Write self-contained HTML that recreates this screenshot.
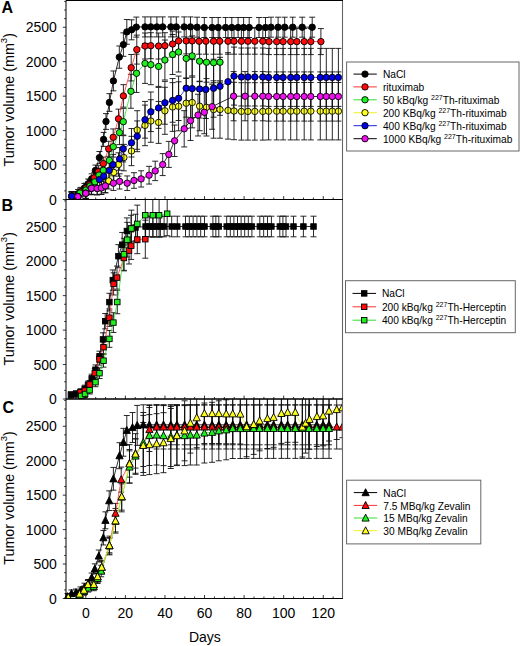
<!DOCTYPE html>
<html><head><meta charset="utf-8"><title>Tumor volume</title>
<style>
html,body{margin:0;padding:0;background:#fff;}
body{width:520px;height:646px;overflow:hidden;font-family:"Liberation Sans", sans-serif;}
svg{display:block;position:absolute;left:0;top:0;}
</style></head><body>
<svg width="520" height="646" viewBox="0 0 520 646" font-family='"Liberation Sans", sans-serif' fill="#000">
<clipPath id="clipA"><rect x="64" y="0.5" width="278.5" height="199"/></clipPath>
<g clip-path="url(#clipA)">
<path d="M71.7 192.03V200.36M68.7 192.03H74.7M68.7 200.36H74.7M78 189.52V198.09M75 189.52H81M75 198.09H81M84.4 183.43V192.57M81.4 183.43H87.4M81.4 192.57H87.4M88.2 179.02V188.59M85.2 179.02H91.2M85.2 188.59H91.2M91.7 173.77V183.84M88.7 173.77H94.7M88.7 183.84H94.7M95.4 165.05V175.95M92.4 165.05H98.4M92.4 175.95H98.4M99.4 151.5V163.69M96.4 151.5H102.4M96.4 163.69H102.4M103.6 132.4V146.41M100.6 132.4H106.6M100.6 146.41H106.6M106 113.6V129.4M103 113.6H109M103 129.4H109M109.4 93.65V111.35M106.4 93.65H112.4M106.4 111.35H112.4M113.4 70.97V90.83M110.4 70.97H116.4M110.4 90.83H116.4M119.3 45.98V68.22M116.3 45.98H122.3M116.3 68.22H122.3M123.4 32.86V56.34M120.4 32.86H126.4M120.4 56.34H126.4M126.8 19.52V44.28M123.8 19.52H129.8M123.8 44.28H129.8M131.6 19.8V39.8M128.6 19.8H134.6M128.6 39.8H134.6M136.3 17.1V37.1M133.3 17.1H139.3M133.3 37.1H139.3M145 16.9V36.9M142 16.9H148M142 36.9H148M150.8 16.9V36.9M147.8 16.9H153.8M147.8 36.9H153.8M156.9 16.9V36.9M153.9 16.9H159.9M153.9 36.9H159.9M162.7 16.9V36.9M159.7 16.9H165.7M159.7 36.9H165.7M170.9 16.9V36.9M167.9 16.9H173.9M167.9 36.9H173.9M176.3 16.9V36.9M173.3 16.9H179.3M173.3 36.9H179.3M184.2 16.9V36.9M181.2 16.9H187.2M181.2 36.9H187.2M190.5 16.9V36.9M187.5 16.9H193.5M187.5 36.9H193.5M197.1 17.2V37.2M194.1 17.2H200.1M194.1 37.2H200.1M204.3 17.5V37.5M201.3 17.5H207.3M201.3 37.5H207.3M212.1 17.5V37.5M209.1 17.5H215.1M209.1 37.5H215.1M218.2 17.5V37.5M215.2 17.5H221.2M215.2 37.5H221.2M225.6 17.5V37.5M222.6 17.5H228.6M222.6 37.5H228.6M231.8 17.5V37.5M228.8 17.5H234.8M228.8 37.5H234.8M238.1 17.5V37.5M235.1 17.5H241.1M235.1 37.5H241.1M243.6 17.5V37.5M240.6 17.5H246.6M240.6 37.5H246.6M249.2 17.5V37.5M246.2 17.5H252.2M246.2 37.5H252.2M259 17.5V37.5M256 17.5H262M256 37.5H262M265.5 17.5V37.5M262.5 17.5H268.5M262.5 37.5H268.5M271 17.2V37.2M268 17.2H274M268 37.2H274M278.1 17.2V37.2M275.1 17.2H281.1M275.1 37.2H281.1M284.7 17.2V37.2M281.7 17.2H287.7M281.7 37.2H287.7M292.7 17.2V37.2M289.7 17.2H295.7M289.7 37.2H295.7M302.2 17.2V37.2M299.2 17.2H305.2M299.2 37.2H305.2M312.2 17.2V37.2M309.2 17.2H315.2M309.2 37.2H315.2" stroke="#111" stroke-width="0.9" fill="none"/>
<path d="M71.7 191.75V200.25M68.7 191.75H74.7M68.7 200.25H74.7M80.8 187.37V196.43M77.8 187.37H83.8M77.8 196.43H83.8M86 183.19V192.81M83 183.19H89M83 192.81H89M89.6 179.45V189.55M86.6 179.45H92.6M86.6 189.55H92.6M94.3 172.28V183.32M91.3 172.28H97.3M91.3 183.32H97.3M98.3 165.75V177.65M95.3 165.75H101.3M95.3 177.65H101.3M103.3 157.09V170.11M100.3 157.09H106.3M100.3 170.11H106.3M108.7 141.25V156.35M105.7 141.25H111.7M105.7 156.35H111.7M113.2 128.95V145.65M110.2 128.95H116.2M110.2 145.65H116.2M118.5 109.15V128.45M115.5 109.15H121.5M115.5 128.45H121.5M123.4 84.65V107.15M120.4 84.65H126.4M120.4 107.15H126.4M131.2 54.47V80.93M128.2 54.47H134.2M128.2 80.93H134.2M136.8 35.11V64.09M133.8 35.11H139.8M133.8 64.09H139.8M145 33V59M142 33H148M142 59H148M150.8 32.7V58.7M147.8 32.7H153.8M147.8 58.7H153.8M158.6 33V59M155.6 33H161.6M155.6 59H161.6M164.9 32.7V58.7M161.9 32.7H167.9M161.9 58.7H167.9M172.6 31V57M169.6 31H175.6M169.6 57H175.6M178.6 27.9V53.9M175.6 27.9H181.6M175.6 53.9H181.6M186.2 27.9V53.9M183.2 27.9H189.2M183.2 53.9H189.2M192.2 27.9V53.9M189.2 27.9H195.2M189.2 53.9H195.2M199.1 28.2V54.2M196.1 28.2H202.1M196.1 54.2H202.1M205.8 28.2V54.2M202.8 28.2H208.8M202.8 54.2H208.8M213.6 28.2V54.2M210.6 28.2H216.6M210.6 54.2H216.6M219.7 28.2V54.2M216.7 28.2H222.7M216.7 54.2H222.7M228 28.2V54.2M225 28.2H231M225 54.2H231M234 28.2V54.2M231 28.2H237M231 54.2H237M241.4 28.2V54.2M238.4 28.2H244.4M238.4 54.2H244.4M247.9 28.2V54.2M244.9 28.2H250.9M244.9 54.2H250.9M254.8 28.2V54.2M251.8 28.2H257.8M251.8 54.2H257.8M262.8 28.2V54.2M259.8 28.2H265.8M259.8 54.2H265.8M269 28.6V54.6M266 28.6H272M266 54.6H272M276.7 28.6V54.6M273.7 28.6H279.7M273.7 54.6H279.7M283.1 28.6V54.6M280.1 28.6H286.1M280.1 54.6H286.1M290.7 28.6V54.6M287.7 28.6H293.7M287.7 54.6H293.7M296.8 28.6V54.6M293.8 28.6H299.8M293.8 54.6H299.8M304.2 28.6V54.6M301.2 28.6H307.2M301.2 54.6H307.2M310.8 28.6V54.6M307.8 28.6H313.8M307.8 54.6H313.8M320.9 28.6V54.6M317.9 28.6H323.9M317.9 54.6H323.9" stroke="#111" stroke-width="0.9" fill="none"/>
<path d="M71.7 191.92V200.68M68.7 191.92H74.7M68.7 200.68H74.7M80 188.22V197.78M77 188.22H83M77 197.78H83M86 184.86V195.14M83 184.86H89M83 195.14H89M90 180.38V191.62M87 180.38H93M87 191.62H93M94.9 175.68V187.92M91.9 175.68H97.9M91.9 187.92H97.9M99 168.17V182.03M96 168.17H102M96 182.03H102M103.3 162.8V177.8M100.3 162.8H106.3M100.3 177.8H106.3M109.3 151.6V169M106.3 151.6H112.3M106.3 169H112.3M113.3 136.36V157.04M110.3 136.36H116.3M110.3 157.04H116.3M119.5 120.57V144.63M116.5 120.57H122.5M116.5 144.63H122.5M123.3 108.36V135.04M120.3 108.36H126.3M120.3 135.04H126.3M130.9 74.32V108.28M127.9 74.32H133.9M127.9 108.28H133.9M136.5 54.16V92.44M133.5 54.16H139.5M133.5 92.44H139.5M145 43.4V83.4M142 43.4H148M142 83.4H148M150.8 44.7V84.7M147.8 44.7H153.8M147.8 84.7H153.8M158.6 46.4V86.4M155.6 46.4H161.6M155.6 86.4H161.6M164.9 40V80M161.9 40H167.9M161.9 80H167.9M172.6 34.5V74.5M169.6 34.5H175.6M169.6 74.5H175.6M178.6 32V72M175.6 32H181.6M175.6 72H181.6M186.2 38.4V78.4M183.2 38.4H189.2M183.2 78.4H189.2M192.2 35.9V75.9M189.2 35.9H195.2M189.2 75.9H195.2M199.6 41.2V81.2M196.6 41.2H202.6M196.6 81.2H202.6M206.5 42.2V82.2M203.5 42.2H209.5M203.5 82.2H209.5M213.6 42.7V82.7M210.6 42.7H216.6M210.6 82.7H216.6M220 42.2V82.2M217 42.2H223M217 82.2H223" stroke="#111" stroke-width="0.9" fill="none"/>
<path d="M71.7 191.84V201.16M68.7 191.84H74.7M68.7 201.16H74.7M77.8 192.08V201.32M74.8 192.08H80.8M74.8 201.32H80.8M85.8 187.94V198.66M82.8 187.94H88.8M82.8 198.66H88.8M91.5 181.84V194.76M88.5 181.84H94.5M88.5 194.76H94.5M97.2 182.08V194.92M94.2 182.08H100.2M94.2 194.92H100.2M101.3 181.35V194.45M98.3 181.35H104.3M98.3 194.45H104.3M105.3 178.91V192.89M102.3 178.91H108.3M102.3 192.89H108.3M108.8 172.81V188.99M105.8 172.81H111.8M105.8 188.99H111.8M113.8 162.44V182.36M110.8 162.44H116.8M110.8 182.36H116.8M118.5 152.8V176.2M115.5 152.8H121.5M115.5 176.2H121.5M123.9 144.38V170.82M120.9 144.38H126.9M120.9 170.82H126.9M131.5 136.33V165.67M128.5 136.33H134.5M128.5 165.67H134.5M137.2 110.71V149.29M134.2 110.71H140.2M134.2 149.29H140.2M145 105.1V145.7M142 105.1H148M142 145.7H148M150.8 99.73V142.27M147.8 99.73H153.8M147.8 142.27H153.8M158.6 101.44V143.36M155.6 101.44H161.6M155.6 143.36H161.6M164.9 87.29V134.31M161.9 87.29H167.9M161.9 134.31H167.9M172.6 82.65V131.35M169.6 82.65H175.6M169.6 131.35H175.6M178.6 81.8V130.8M175.6 81.8H181.6M175.6 130.8H181.6M186.2 78.01V128.39M183.2 78.01H189.2M183.2 128.39H189.2M192.2 77.16V127.84M189.2 77.16H195.2M189.2 127.84H195.2M199.6 81.67V130.73M196.6 81.67H202.6M196.6 130.73H202.6M206.5 78.6V136M203.5 78.6H209.5M203.5 136H209.5M213.6 80.8V138.2M210.6 80.8H216.6M210.6 138.2H216.6M220 80.8V138.2M217 80.8H223M217 138.2H223M228 81.7V139.1M225 81.7H231M225 139.1H231M234 82.3V139.7M231 82.3H237M231 139.7H237M241.4 82.7V140.1M238.4 82.7H244.4M238.4 140.1H244.4M247.9 82.7V140.1M244.9 82.7H250.9M244.9 140.1H250.9M254.8 82.7V140.1M251.8 82.7H257.8M251.8 140.1H257.8M262.8 82.7V140.1M259.8 82.7H265.8M259.8 140.1H265.8M268.6 82.5V139.9M265.6 82.5H271.6M265.6 139.9H271.6M276.7 82.5V139.9M273.7 82.5H279.7M273.7 139.9H279.7M283.1 82.5V139.9M280.1 82.5H286.1M280.1 139.9H286.1M290.7 82.5V139.9M287.7 82.5H293.7M287.7 139.9H293.7M296.8 82.5V139.9M293.8 82.5H299.8M293.8 139.9H299.8M304.2 82.5V139.9M301.2 82.5H307.2M301.2 139.9H307.2M310.8 82.5V139.9M307.8 82.5H313.8M307.8 139.9H313.8M320.3 82.5V139.9M317.3 82.5H323.3M317.3 139.9H323.3M326.3 82.5V139.9M323.3 82.5H329.3M323.3 139.9H329.3M332.3 82.5V139.9M329.3 82.5H335.3M329.3 139.9H335.3M338.4 82.5V139.9M335.4 82.5H341.4M335.4 139.9H341.4" stroke="#111" stroke-width="0.9" fill="none"/>
<path d="M71.7 191.61V200.79M68.7 191.61H74.7M68.7 200.79H74.7M77.8 191.96V201.04M74.8 191.96H80.8M74.8 201.04H80.8M85.8 187.95V198.25M82.8 187.95H88.8M82.8 198.25H88.8M91.3 182.17V194.23M88.3 182.17H94.3M88.3 194.23H94.3M99.4 172.02V187.18M96.4 172.02H102.4M96.4 187.18H102.4M103.7 168.01V184.39M100.7 168.01H106.7M100.7 184.39H106.7M109.3 161.16V179.64M106.3 161.16H112.3M106.3 179.64H112.3M113.1 154.44V174.96M110.1 154.44H116.1M110.1 174.96H116.1M119.6 147.59V170.21M116.6 147.59H122.6M116.6 170.21H122.6M123.2 135.67V161.93M120.2 135.67H126.2M120.2 161.93H126.2M131.5 128.59V157.01M128.5 128.59H134.5M128.5 157.01H134.5M137.2 120.92V151.68M134.2 120.92H140.2M134.2 151.68H140.2M145 101.45V138.15M142 101.45H148M142 138.15H148M150.8 92.01V131.59M147.8 92.01H153.8M147.8 131.59H153.8M158.6 87.41V128.39M155.6 87.41H161.6M155.6 128.39H161.6M164.9 81.39V124.21M161.9 81.39H167.9M161.9 124.21H167.9M172.6 78.56V122.24M169.6 78.56H175.6M169.6 122.24H175.6M178.6 76.08V120.52M175.6 76.08H181.6M175.6 120.52H181.6M186.2 59.2V117.2M183.2 59.2H189.2M183.2 117.2H189.2M192.2 59.6V117.6M189.2 59.6H195.2M189.2 117.6H195.2M199.6 60V118M196.6 60H202.6M196.6 118H202.6M205.8 60.5V118.5M202.8 60.5H208.8M202.8 118.5H208.8M213.6 59.2V117.2M210.6 59.2H216.6M210.6 117.2H216.6M220 57.3V115.3M217 57.3H223M217 115.3H223M228 52.7V110.7M225 52.7H231M225 110.7H231M234 47.1V105.1M231 47.1H237M231 105.1H237M241.4 48V106M238.4 48H244.4M238.4 106H244.4M247.9 48V106M244.9 48H250.9M244.9 106H250.9M254.8 48V106M251.8 48H257.8M251.8 106H257.8M262.8 48V106M259.8 48H265.8M259.8 106H265.8M268.6 48.4V106.4M265.6 48.4H271.6M265.6 106.4H271.6M276.7 48.4V106.4M273.7 48.4H279.7M273.7 106.4H279.7M283.1 48.4V106.4M280.1 48.4H286.1M280.1 106.4H286.1M290.7 48.4V106.4M287.7 48.4H293.7M287.7 106.4H293.7M296.8 48.4V106.4M293.8 48.4H299.8M293.8 106.4H299.8M304.2 48.4V106.4M301.2 48.4H307.2M301.2 106.4H307.2M310.8 48.4V106.4M307.8 48.4H313.8M307.8 106.4H313.8M320.3 48.4V106.4M317.3 48.4H323.3M317.3 106.4H323.3M326.3 48.4V106.4M323.3 48.4H329.3M323.3 106.4H329.3M332.3 48.4V106.4M329.3 48.4H335.3M329.3 106.4H335.3M338.4 48.4V106.4M335.4 48.4H341.4M335.4 106.4H341.4" stroke="#111" stroke-width="0.9" fill="none"/>
<path d="M77.8 192.14V201.26M74.8 192.14H80.8M74.8 201.26H80.8M85.8 188.06V198.54M82.8 188.06H88.8M82.8 198.54H88.8M91.5 182.06V194.54M88.5 182.06H94.5M88.5 194.54H94.5M97.2 182.3V194.7M94.2 182.3H100.2M94.2 194.7H100.2M101.3 181.58V194.22M98.3 181.58H104.3M98.3 194.22H104.3M105.3 179.18V192.62M102.3 179.18H108.3M102.3 192.62H108.3M113.4 175.94V190.46M110.4 175.94H116.4M110.4 190.46H116.4M119.6 173.78V189.02M116.6 173.78H122.6M116.6 189.02H122.6M127.2 175.94V190.46M124.2 175.94H130.2M124.2 190.46H130.2M134 172.7V188.3M131 172.7H137M131 188.3H137M141.1 170.78V187.02M138.1 170.78H144.1M138.1 187.02H144.1M149.1 166.34V184.06M146.1 166.34H152.1M146.1 184.06H152.1M155.2 161.18V180.62M152.2 161.18H158.2M152.2 180.62H158.2M162.7 153.62V175.58M159.7 153.62H165.7M159.7 175.58H165.7M168.8 141.38V167.42M165.8 141.38H171.8M165.8 167.42H171.8M174.6 125.06V156.54M171.6 125.06H177.6M171.6 156.54H177.6M184.2 110.66V146.94M181.2 110.66H187.2M181.2 146.94H187.2M190.5 100.94V140.46M187.5 100.94H193.5M187.5 140.46H193.5M198 94.22V135.98M195 94.22H201M195 135.98H201M204.3 90.86V133.74M201.3 90.86H207.3M201.3 133.74H207.3M212.1 84.14V129.26M209.1 84.14H215.1M209.1 129.26H215.1M233.6 71.6V120.8M230.6 71.6H236.6M230.6 120.8H236.6M245.1 71.6V120.8M242.1 71.6H248.1M242.1 120.8H248.1M254.8 71.6V120.8M251.8 71.6H257.8M251.8 120.8H257.8M262.8 71.6V120.8M259.8 71.6H265.8M259.8 120.8H265.8M268.6 71.9V121.1M265.6 71.9H271.6M265.6 121.1H271.6M276.7 71.9V121.1M273.7 71.9H279.7M273.7 121.1H279.7M283.1 71.9V121.1M280.1 71.9H286.1M280.1 121.1H286.1M290.7 71.9V121.1M287.7 71.9H293.7M287.7 121.1H293.7M296.8 71.9V121.1M293.8 71.9H299.8M293.8 121.1H299.8M304.2 71.9V121.1M301.2 71.9H307.2M301.2 121.1H307.2M310.8 71.9V121.1M307.8 71.9H313.8M307.8 121.1H313.8M320.3 71.9V121.1M317.3 71.9H323.3M317.3 121.1H323.3M326.3 71.9V121.1M323.3 71.9H329.3M323.3 121.1H329.3M332.3 71.9V121.1M329.3 71.9H335.3M329.3 121.1H335.3M338.4 71.9V121.1M335.4 71.9H341.4M335.4 121.1H341.4" stroke="#111" stroke-width="0.9" fill="none"/>
<polyline points="71.7,196.2 78,193.8 84.4,188 88.2,183.8 91.7,178.8 95.4,170.5 99.4,157.6 103.6,139.4 106,121.5 109.4,102.5 113.4,80.9 119.3,57.1 123.4,44.6 126.8,31.9 131.6,29.8 136.3,27.1 145,26.9 150.8,26.9 156.9,26.9 162.7,26.9 170.9,26.9 176.3,26.9 184.2,26.9 190.5,26.9 197.1,27.2 204.3,27.5 212.1,27.5 218.2,27.5 225.6,27.5 231.8,27.5 238.1,27.5 243.6,27.5 249.2,27.5 259,27.5 265.5,27.5 271,27.2 278.1,27.2 284.7,27.2 292.7,27.2 302.2,27.2 312.2,27.2" stroke="#000000" stroke-width="0.8" fill="none"/>
<polyline points="71.7,196 80.8,191.9 86,188 89.6,184.5 94.3,177.8 98.3,171.7 103.3,163.6 108.7,148.8 113.2,137.3 118.5,118.8 123.4,95.9 131.2,67.7 136.8,49.6 145,46 150.8,45.7 158.6,46 164.9,45.7 172.6,44 178.6,40.9 186.2,40.9 192.2,40.9 199.1,41.2 205.8,41.2 213.6,41.2 219.7,41.2 228,41.2 234,41.2 241.4,41.2 247.9,41.2 254.8,41.2 262.8,41.2 269,41.6 276.7,41.6 283.1,41.6 290.7,41.6 296.8,41.6 304.2,41.6 310.8,41.6 320.9,41.6" stroke="#ff3030" stroke-width="0.8" fill="none"/>
<polyline points="71.7,196.3 80,193 86,190 90,186 94.9,181.8 99,175.1 103.3,170.3 109.3,160.3 113.3,146.7 119.5,132.6 123.3,121.7 130.9,91.3 136.5,73.3 145,63.4 150.8,64.7 158.6,66.4 164.9,60 172.6,54.5 178.6,52 186.2,58.4 192.2,55.9 199.6,61.2 206.5,62.2 213.6,62.7 220,62.2" stroke="#30e030" stroke-width="0.8" fill="none"/>
<polyline points="71.7,196.5 77.8,196.7 85.8,193.3 91.5,188.3 97.2,188.5 101.3,187.9 105.3,185.9 108.8,180.9 113.8,172.4 118.5,164.5 123.9,157.6 131.5,151 137.2,130 145,125.4 150.8,121 158.6,122.4 164.9,110.8 172.6,107 178.6,106.3 186.2,103.2 192.2,102.5 199.6,106.2 206.5,107.3 213.6,109.5 220,109.5 228,110.4 234,111 241.4,111.4 247.9,111.4 254.8,111.4 262.8,111.4 268.6,111.2 276.7,111.2 283.1,111.2 290.7,111.2 296.8,111.2 304.2,111.2 310.8,111.2 320.3,111.2 326.3,111.2 332.3,111.2 338.4,111.2" stroke="#f0f020" stroke-width="0.8" fill="none"/>
<polyline points="71.7,196.2 77.8,196.5 85.8,193.1 91.3,188.2 99.4,179.6 103.7,176.2 109.3,170.4 113.1,164.7 119.6,158.9 123.2,148.8 131.5,142.8 137.2,136.3 145,119.8 150.8,111.8 158.6,107.9 164.9,102.8 172.6,100.4 178.6,98.3 186.2,88.2 192.2,88.6 199.6,89 205.8,89.5 213.6,88.2 220,86.3 228,81.7 234,76.1 241.4,77 247.9,77 254.8,77 262.8,77 268.6,77.4 276.7,77.4 283.1,77.4 290.7,77.4 296.8,77.4 304.2,77.4 310.8,77.4 320.3,77.4 326.3,77.4 332.3,77.4 338.4,77.4" stroke="#2020e0" stroke-width="0.8" fill="none"/>
<polyline points="77.8,196.7 85.8,193.3 91.5,188.3 97.2,188.5 101.3,187.9 105.3,185.9 113.4,183.2 119.6,181.4 127.2,183.2 134,180.5 141.1,178.9 149.1,175.2 155.2,170.9 162.7,164.6 168.8,154.4 174.6,140.8 184.2,128.8 190.5,120.7 198,115.1 204.3,112.3 212.1,106.7 233.6,96.2 245.1,96.2 254.8,96.2 262.8,96.2 268.6,96.5 276.7,96.5 283.1,96.5 290.7,96.5 296.8,96.5 304.2,96.5 310.8,96.5 320.3,96.5 326.3,96.5 332.3,96.5 338.4,96.5" stroke="#000000" stroke-width="0.8" fill="none"/>
<circle cx="71.7" cy="196.2" r="3.2" fill="#000000" stroke="#000" stroke-width="0.9"/><circle cx="78" cy="193.8" r="3.2" fill="#000000" stroke="#000" stroke-width="0.9"/><circle cx="84.4" cy="188" r="3.2" fill="#000000" stroke="#000" stroke-width="0.9"/><circle cx="88.2" cy="183.8" r="3.2" fill="#000000" stroke="#000" stroke-width="0.9"/><circle cx="91.7" cy="178.8" r="3.2" fill="#000000" stroke="#000" stroke-width="0.9"/><circle cx="95.4" cy="170.5" r="3.2" fill="#000000" stroke="#000" stroke-width="0.9"/><circle cx="99.4" cy="157.6" r="3.2" fill="#000000" stroke="#000" stroke-width="0.9"/><circle cx="103.6" cy="139.4" r="3.2" fill="#000000" stroke="#000" stroke-width="0.9"/><circle cx="106" cy="121.5" r="3.2" fill="#000000" stroke="#000" stroke-width="0.9"/><circle cx="109.4" cy="102.5" r="3.2" fill="#000000" stroke="#000" stroke-width="0.9"/><circle cx="113.4" cy="80.9" r="3.2" fill="#000000" stroke="#000" stroke-width="0.9"/><circle cx="119.3" cy="57.1" r="3.2" fill="#000000" stroke="#000" stroke-width="0.9"/><circle cx="123.4" cy="44.6" r="3.2" fill="#000000" stroke="#000" stroke-width="0.9"/><circle cx="126.8" cy="31.9" r="3.2" fill="#000000" stroke="#000" stroke-width="0.9"/><circle cx="131.6" cy="29.8" r="3.2" fill="#000000" stroke="#000" stroke-width="0.9"/><circle cx="136.3" cy="27.1" r="3.2" fill="#000000" stroke="#000" stroke-width="0.9"/><circle cx="145" cy="26.9" r="3.2" fill="#000000" stroke="#000" stroke-width="0.9"/><circle cx="150.8" cy="26.9" r="3.2" fill="#000000" stroke="#000" stroke-width="0.9"/><circle cx="156.9" cy="26.9" r="3.2" fill="#000000" stroke="#000" stroke-width="0.9"/><circle cx="162.7" cy="26.9" r="3.2" fill="#000000" stroke="#000" stroke-width="0.9"/><circle cx="170.9" cy="26.9" r="3.2" fill="#000000" stroke="#000" stroke-width="0.9"/><circle cx="176.3" cy="26.9" r="3.2" fill="#000000" stroke="#000" stroke-width="0.9"/><circle cx="184.2" cy="26.9" r="3.2" fill="#000000" stroke="#000" stroke-width="0.9"/><circle cx="190.5" cy="26.9" r="3.2" fill="#000000" stroke="#000" stroke-width="0.9"/><circle cx="197.1" cy="27.2" r="3.2" fill="#000000" stroke="#000" stroke-width="0.9"/><circle cx="204.3" cy="27.5" r="3.2" fill="#000000" stroke="#000" stroke-width="0.9"/><circle cx="212.1" cy="27.5" r="3.2" fill="#000000" stroke="#000" stroke-width="0.9"/><circle cx="218.2" cy="27.5" r="3.2" fill="#000000" stroke="#000" stroke-width="0.9"/><circle cx="225.6" cy="27.5" r="3.2" fill="#000000" stroke="#000" stroke-width="0.9"/><circle cx="231.8" cy="27.5" r="3.2" fill="#000000" stroke="#000" stroke-width="0.9"/><circle cx="238.1" cy="27.5" r="3.2" fill="#000000" stroke="#000" stroke-width="0.9"/><circle cx="243.6" cy="27.5" r="3.2" fill="#000000" stroke="#000" stroke-width="0.9"/><circle cx="249.2" cy="27.5" r="3.2" fill="#000000" stroke="#000" stroke-width="0.9"/><circle cx="259" cy="27.5" r="3.2" fill="#000000" stroke="#000" stroke-width="0.9"/><circle cx="265.5" cy="27.5" r="3.2" fill="#000000" stroke="#000" stroke-width="0.9"/><circle cx="271" cy="27.2" r="3.2" fill="#000000" stroke="#000" stroke-width="0.9"/><circle cx="278.1" cy="27.2" r="3.2" fill="#000000" stroke="#000" stroke-width="0.9"/><circle cx="284.7" cy="27.2" r="3.2" fill="#000000" stroke="#000" stroke-width="0.9"/><circle cx="292.7" cy="27.2" r="3.2" fill="#000000" stroke="#000" stroke-width="0.9"/><circle cx="302.2" cy="27.2" r="3.2" fill="#000000" stroke="#000" stroke-width="0.9"/><circle cx="312.2" cy="27.2" r="3.2" fill="#000000" stroke="#000" stroke-width="0.9"/>
<circle cx="71.7" cy="196" r="3.2" fill="#ff0a0a" stroke="#000" stroke-width="0.9"/><circle cx="80.8" cy="191.9" r="3.2" fill="#ff0a0a" stroke="#000" stroke-width="0.9"/><circle cx="86" cy="188" r="3.2" fill="#ff0a0a" stroke="#000" stroke-width="0.9"/><circle cx="89.6" cy="184.5" r="3.2" fill="#ff0a0a" stroke="#000" stroke-width="0.9"/><circle cx="94.3" cy="177.8" r="3.2" fill="#ff0a0a" stroke="#000" stroke-width="0.9"/><circle cx="98.3" cy="171.7" r="3.2" fill="#ff0a0a" stroke="#000" stroke-width="0.9"/><circle cx="103.3" cy="163.6" r="3.2" fill="#ff0a0a" stroke="#000" stroke-width="0.9"/><circle cx="108.7" cy="148.8" r="3.2" fill="#ff0a0a" stroke="#000" stroke-width="0.9"/><circle cx="113.2" cy="137.3" r="3.2" fill="#ff0a0a" stroke="#000" stroke-width="0.9"/><circle cx="118.5" cy="118.8" r="3.2" fill="#ff0a0a" stroke="#000" stroke-width="0.9"/><circle cx="123.4" cy="95.9" r="3.2" fill="#ff0a0a" stroke="#000" stroke-width="0.9"/><circle cx="131.2" cy="67.7" r="3.2" fill="#ff0a0a" stroke="#000" stroke-width="0.9"/><circle cx="136.8" cy="49.6" r="3.2" fill="#ff0a0a" stroke="#000" stroke-width="0.9"/><circle cx="145" cy="46" r="3.2" fill="#ff0a0a" stroke="#000" stroke-width="0.9"/><circle cx="150.8" cy="45.7" r="3.2" fill="#ff0a0a" stroke="#000" stroke-width="0.9"/><circle cx="158.6" cy="46" r="3.2" fill="#ff0a0a" stroke="#000" stroke-width="0.9"/><circle cx="164.9" cy="45.7" r="3.2" fill="#ff0a0a" stroke="#000" stroke-width="0.9"/><circle cx="172.6" cy="44" r="3.2" fill="#ff0a0a" stroke="#000" stroke-width="0.9"/><circle cx="178.6" cy="40.9" r="3.2" fill="#ff0a0a" stroke="#000" stroke-width="0.9"/><circle cx="186.2" cy="40.9" r="3.2" fill="#ff0a0a" stroke="#000" stroke-width="0.9"/><circle cx="192.2" cy="40.9" r="3.2" fill="#ff0a0a" stroke="#000" stroke-width="0.9"/><circle cx="199.1" cy="41.2" r="3.2" fill="#ff0a0a" stroke="#000" stroke-width="0.9"/><circle cx="205.8" cy="41.2" r="3.2" fill="#ff0a0a" stroke="#000" stroke-width="0.9"/><circle cx="213.6" cy="41.2" r="3.2" fill="#ff0a0a" stroke="#000" stroke-width="0.9"/><circle cx="219.7" cy="41.2" r="3.2" fill="#ff0a0a" stroke="#000" stroke-width="0.9"/><circle cx="228" cy="41.2" r="3.2" fill="#ff0a0a" stroke="#000" stroke-width="0.9"/><circle cx="234" cy="41.2" r="3.2" fill="#ff0a0a" stroke="#000" stroke-width="0.9"/><circle cx="241.4" cy="41.2" r="3.2" fill="#ff0a0a" stroke="#000" stroke-width="0.9"/><circle cx="247.9" cy="41.2" r="3.2" fill="#ff0a0a" stroke="#000" stroke-width="0.9"/><circle cx="254.8" cy="41.2" r="3.2" fill="#ff0a0a" stroke="#000" stroke-width="0.9"/><circle cx="262.8" cy="41.2" r="3.2" fill="#ff0a0a" stroke="#000" stroke-width="0.9"/><circle cx="269" cy="41.6" r="3.2" fill="#ff0a0a" stroke="#000" stroke-width="0.9"/><circle cx="276.7" cy="41.6" r="3.2" fill="#ff0a0a" stroke="#000" stroke-width="0.9"/><circle cx="283.1" cy="41.6" r="3.2" fill="#ff0a0a" stroke="#000" stroke-width="0.9"/><circle cx="290.7" cy="41.6" r="3.2" fill="#ff0a0a" stroke="#000" stroke-width="0.9"/><circle cx="296.8" cy="41.6" r="3.2" fill="#ff0a0a" stroke="#000" stroke-width="0.9"/><circle cx="304.2" cy="41.6" r="3.2" fill="#ff0a0a" stroke="#000" stroke-width="0.9"/><circle cx="310.8" cy="41.6" r="3.2" fill="#ff0a0a" stroke="#000" stroke-width="0.9"/><circle cx="320.9" cy="41.6" r="3.2" fill="#ff0a0a" stroke="#000" stroke-width="0.9"/>
<circle cx="71.7" cy="196.3" r="3.2" fill="#1ef01e" stroke="#000" stroke-width="0.9"/><circle cx="80" cy="193" r="3.2" fill="#1ef01e" stroke="#000" stroke-width="0.9"/><circle cx="86" cy="190" r="3.2" fill="#1ef01e" stroke="#000" stroke-width="0.9"/><circle cx="90" cy="186" r="3.2" fill="#1ef01e" stroke="#000" stroke-width="0.9"/><circle cx="94.9" cy="181.8" r="3.2" fill="#1ef01e" stroke="#000" stroke-width="0.9"/><circle cx="99" cy="175.1" r="3.2" fill="#1ef01e" stroke="#000" stroke-width="0.9"/><circle cx="103.3" cy="170.3" r="3.2" fill="#1ef01e" stroke="#000" stroke-width="0.9"/><circle cx="109.3" cy="160.3" r="3.2" fill="#1ef01e" stroke="#000" stroke-width="0.9"/><circle cx="113.3" cy="146.7" r="3.2" fill="#1ef01e" stroke="#000" stroke-width="0.9"/><circle cx="119.5" cy="132.6" r="3.2" fill="#1ef01e" stroke="#000" stroke-width="0.9"/><circle cx="123.3" cy="121.7" r="3.2" fill="#1ef01e" stroke="#000" stroke-width="0.9"/><circle cx="130.9" cy="91.3" r="3.2" fill="#1ef01e" stroke="#000" stroke-width="0.9"/><circle cx="136.5" cy="73.3" r="3.2" fill="#1ef01e" stroke="#000" stroke-width="0.9"/><circle cx="145" cy="63.4" r="3.2" fill="#1ef01e" stroke="#000" stroke-width="0.9"/><circle cx="150.8" cy="64.7" r="3.2" fill="#1ef01e" stroke="#000" stroke-width="0.9"/><circle cx="158.6" cy="66.4" r="3.2" fill="#1ef01e" stroke="#000" stroke-width="0.9"/><circle cx="164.9" cy="60" r="3.2" fill="#1ef01e" stroke="#000" stroke-width="0.9"/><circle cx="172.6" cy="54.5" r="3.2" fill="#1ef01e" stroke="#000" stroke-width="0.9"/><circle cx="178.6" cy="52" r="3.2" fill="#1ef01e" stroke="#000" stroke-width="0.9"/><circle cx="186.2" cy="58.4" r="3.2" fill="#1ef01e" stroke="#000" stroke-width="0.9"/><circle cx="192.2" cy="55.9" r="3.2" fill="#1ef01e" stroke="#000" stroke-width="0.9"/><circle cx="199.6" cy="61.2" r="3.2" fill="#1ef01e" stroke="#000" stroke-width="0.9"/><circle cx="206.5" cy="62.2" r="3.2" fill="#1ef01e" stroke="#000" stroke-width="0.9"/><circle cx="213.6" cy="62.7" r="3.2" fill="#1ef01e" stroke="#000" stroke-width="0.9"/><circle cx="220" cy="62.2" r="3.2" fill="#1ef01e" stroke="#000" stroke-width="0.9"/>
<circle cx="71.7" cy="196.5" r="3.2" fill="#ffff1e" stroke="#000" stroke-width="0.9"/><circle cx="77.8" cy="196.7" r="3.2" fill="#ffff1e" stroke="#000" stroke-width="0.9"/><circle cx="85.8" cy="193.3" r="3.2" fill="#ffff1e" stroke="#000" stroke-width="0.9"/><circle cx="91.5" cy="188.3" r="3.2" fill="#ffff1e" stroke="#000" stroke-width="0.9"/><circle cx="97.2" cy="188.5" r="3.2" fill="#ffff1e" stroke="#000" stroke-width="0.9"/><circle cx="101.3" cy="187.9" r="3.2" fill="#ffff1e" stroke="#000" stroke-width="0.9"/><circle cx="105.3" cy="185.9" r="3.2" fill="#ffff1e" stroke="#000" stroke-width="0.9"/><circle cx="108.8" cy="180.9" r="3.2" fill="#ffff1e" stroke="#000" stroke-width="0.9"/><circle cx="113.8" cy="172.4" r="3.2" fill="#ffff1e" stroke="#000" stroke-width="0.9"/><circle cx="118.5" cy="164.5" r="3.2" fill="#ffff1e" stroke="#000" stroke-width="0.9"/><circle cx="123.9" cy="157.6" r="3.2" fill="#ffff1e" stroke="#000" stroke-width="0.9"/><circle cx="131.5" cy="151" r="3.2" fill="#ffff1e" stroke="#000" stroke-width="0.9"/><circle cx="137.2" cy="130" r="3.2" fill="#ffff1e" stroke="#000" stroke-width="0.9"/><circle cx="145" cy="125.4" r="3.2" fill="#ffff1e" stroke="#000" stroke-width="0.9"/><circle cx="150.8" cy="121" r="3.2" fill="#ffff1e" stroke="#000" stroke-width="0.9"/><circle cx="158.6" cy="122.4" r="3.2" fill="#ffff1e" stroke="#000" stroke-width="0.9"/><circle cx="164.9" cy="110.8" r="3.2" fill="#ffff1e" stroke="#000" stroke-width="0.9"/><circle cx="172.6" cy="107" r="3.2" fill="#ffff1e" stroke="#000" stroke-width="0.9"/><circle cx="178.6" cy="106.3" r="3.2" fill="#ffff1e" stroke="#000" stroke-width="0.9"/><circle cx="186.2" cy="103.2" r="3.2" fill="#ffff1e" stroke="#000" stroke-width="0.9"/><circle cx="192.2" cy="102.5" r="3.2" fill="#ffff1e" stroke="#000" stroke-width="0.9"/><circle cx="199.6" cy="106.2" r="3.2" fill="#ffff1e" stroke="#000" stroke-width="0.9"/><circle cx="206.5" cy="107.3" r="3.2" fill="#ffff1e" stroke="#000" stroke-width="0.9"/><circle cx="213.6" cy="109.5" r="3.2" fill="#ffff1e" stroke="#000" stroke-width="0.9"/><circle cx="220" cy="109.5" r="3.2" fill="#ffff1e" stroke="#000" stroke-width="0.9"/><circle cx="228" cy="110.4" r="3.2" fill="#ffff1e" stroke="#000" stroke-width="0.9"/><circle cx="234" cy="111" r="3.2" fill="#ffff1e" stroke="#000" stroke-width="0.9"/><circle cx="241.4" cy="111.4" r="3.2" fill="#ffff1e" stroke="#000" stroke-width="0.9"/><circle cx="247.9" cy="111.4" r="3.2" fill="#ffff1e" stroke="#000" stroke-width="0.9"/><circle cx="254.8" cy="111.4" r="3.2" fill="#ffff1e" stroke="#000" stroke-width="0.9"/><circle cx="262.8" cy="111.4" r="3.2" fill="#ffff1e" stroke="#000" stroke-width="0.9"/><circle cx="268.6" cy="111.2" r="3.2" fill="#ffff1e" stroke="#000" stroke-width="0.9"/><circle cx="276.7" cy="111.2" r="3.2" fill="#ffff1e" stroke="#000" stroke-width="0.9"/><circle cx="283.1" cy="111.2" r="3.2" fill="#ffff1e" stroke="#000" stroke-width="0.9"/><circle cx="290.7" cy="111.2" r="3.2" fill="#ffff1e" stroke="#000" stroke-width="0.9"/><circle cx="296.8" cy="111.2" r="3.2" fill="#ffff1e" stroke="#000" stroke-width="0.9"/><circle cx="304.2" cy="111.2" r="3.2" fill="#ffff1e" stroke="#000" stroke-width="0.9"/><circle cx="310.8" cy="111.2" r="3.2" fill="#ffff1e" stroke="#000" stroke-width="0.9"/><circle cx="320.3" cy="111.2" r="3.2" fill="#ffff1e" stroke="#000" stroke-width="0.9"/><circle cx="326.3" cy="111.2" r="3.2" fill="#ffff1e" stroke="#000" stroke-width="0.9"/><circle cx="332.3" cy="111.2" r="3.2" fill="#ffff1e" stroke="#000" stroke-width="0.9"/><circle cx="338.4" cy="111.2" r="3.2" fill="#ffff1e" stroke="#000" stroke-width="0.9"/>
<path d="M123.9 154.4V160.8M131.5 147.8V154.2M137.2 126.8V133.2M145 122.2V128.6M150.8 117.8V124.2M158.6 119.2V125.6M164.9 107.6V114M172.6 103.8V110.2M178.6 103.1V109.5M186.2 100V106.4M192.2 99.3V105.7M199.6 103V109.4M206.5 104.1V110.5M213.6 106.3V112.7M220 106.3V112.7M228 107.2V113.6M234 107.8V114.2M241.4 108.2V114.6M247.9 108.2V114.6M254.8 108.2V114.6M262.8 108.2V114.6M268.6 108V114.4M276.7 108V114.4M283.1 108V114.4M290.7 108V114.4M296.8 108V114.4M304.2 108V114.4M310.8 108V114.4M320.3 108V114.4M326.3 108V114.4M332.3 108V114.4M338.4 108V114.4" stroke="#222" stroke-width="0.8" fill="none"/>
<circle cx="71.7" cy="196.2" r="3.2" fill="#0000e6" stroke="#000" stroke-width="0.9"/><circle cx="77.8" cy="196.5" r="3.2" fill="#0000e6" stroke="#000" stroke-width="0.9"/><circle cx="85.8" cy="193.1" r="3.2" fill="#0000e6" stroke="#000" stroke-width="0.9"/><circle cx="91.3" cy="188.2" r="3.2" fill="#0000e6" stroke="#000" stroke-width="0.9"/><circle cx="99.4" cy="179.6" r="3.2" fill="#0000e6" stroke="#000" stroke-width="0.9"/><circle cx="103.7" cy="176.2" r="3.2" fill="#0000e6" stroke="#000" stroke-width="0.9"/><circle cx="109.3" cy="170.4" r="3.2" fill="#0000e6" stroke="#000" stroke-width="0.9"/><circle cx="113.1" cy="164.7" r="3.2" fill="#0000e6" stroke="#000" stroke-width="0.9"/><circle cx="119.6" cy="158.9" r="3.2" fill="#0000e6" stroke="#000" stroke-width="0.9"/><circle cx="123.2" cy="148.8" r="3.2" fill="#0000e6" stroke="#000" stroke-width="0.9"/><circle cx="131.5" cy="142.8" r="3.2" fill="#0000e6" stroke="#000" stroke-width="0.9"/><circle cx="137.2" cy="136.3" r="3.2" fill="#0000e6" stroke="#000" stroke-width="0.9"/><circle cx="145" cy="119.8" r="3.2" fill="#0000e6" stroke="#000" stroke-width="0.9"/><circle cx="150.8" cy="111.8" r="3.2" fill="#0000e6" stroke="#000" stroke-width="0.9"/><circle cx="158.6" cy="107.9" r="3.2" fill="#0000e6" stroke="#000" stroke-width="0.9"/><circle cx="164.9" cy="102.8" r="3.2" fill="#0000e6" stroke="#000" stroke-width="0.9"/><circle cx="172.6" cy="100.4" r="3.2" fill="#0000e6" stroke="#000" stroke-width="0.9"/><circle cx="178.6" cy="98.3" r="3.2" fill="#0000e6" stroke="#000" stroke-width="0.9"/><circle cx="186.2" cy="88.2" r="3.2" fill="#0000e6" stroke="#000" stroke-width="0.9"/><circle cx="192.2" cy="88.6" r="3.2" fill="#0000e6" stroke="#000" stroke-width="0.9"/><circle cx="199.6" cy="89" r="3.2" fill="#0000e6" stroke="#000" stroke-width="0.9"/><circle cx="205.8" cy="89.5" r="3.2" fill="#0000e6" stroke="#000" stroke-width="0.9"/><circle cx="213.6" cy="88.2" r="3.2" fill="#0000e6" stroke="#000" stroke-width="0.9"/><circle cx="220" cy="86.3" r="3.2" fill="#0000e6" stroke="#000" stroke-width="0.9"/><circle cx="228" cy="81.7" r="3.2" fill="#0000e6" stroke="#000" stroke-width="0.9"/><circle cx="234" cy="76.1" r="3.2" fill="#0000e6" stroke="#000" stroke-width="0.9"/><circle cx="241.4" cy="77" r="3.2" fill="#0000e6" stroke="#000" stroke-width="0.9"/><circle cx="247.9" cy="77" r="3.2" fill="#0000e6" stroke="#000" stroke-width="0.9"/><circle cx="254.8" cy="77" r="3.2" fill="#0000e6" stroke="#000" stroke-width="0.9"/><circle cx="262.8" cy="77" r="3.2" fill="#0000e6" stroke="#000" stroke-width="0.9"/><circle cx="268.6" cy="77.4" r="3.2" fill="#0000e6" stroke="#000" stroke-width="0.9"/><circle cx="276.7" cy="77.4" r="3.2" fill="#0000e6" stroke="#000" stroke-width="0.9"/><circle cx="283.1" cy="77.4" r="3.2" fill="#0000e6" stroke="#000" stroke-width="0.9"/><circle cx="290.7" cy="77.4" r="3.2" fill="#0000e6" stroke="#000" stroke-width="0.9"/><circle cx="296.8" cy="77.4" r="3.2" fill="#0000e6" stroke="#000" stroke-width="0.9"/><circle cx="304.2" cy="77.4" r="3.2" fill="#0000e6" stroke="#000" stroke-width="0.9"/><circle cx="310.8" cy="77.4" r="3.2" fill="#0000e6" stroke="#000" stroke-width="0.9"/><circle cx="320.3" cy="77.4" r="3.2" fill="#0000e6" stroke="#000" stroke-width="0.9"/><circle cx="326.3" cy="77.4" r="3.2" fill="#0000e6" stroke="#000" stroke-width="0.9"/><circle cx="332.3" cy="77.4" r="3.2" fill="#0000e6" stroke="#000" stroke-width="0.9"/><circle cx="338.4" cy="77.4" r="3.2" fill="#0000e6" stroke="#000" stroke-width="0.9"/>
<circle cx="77.8" cy="196.7" r="3.2" fill="#ee10ee" stroke="#000" stroke-width="0.9"/><circle cx="85.8" cy="193.3" r="3.2" fill="#ee10ee" stroke="#000" stroke-width="0.9"/><circle cx="91.5" cy="188.3" r="3.2" fill="#ee10ee" stroke="#000" stroke-width="0.9"/><circle cx="97.2" cy="188.5" r="3.2" fill="#ee10ee" stroke="#000" stroke-width="0.9"/><circle cx="101.3" cy="187.9" r="3.2" fill="#ee10ee" stroke="#000" stroke-width="0.9"/><circle cx="105.3" cy="185.9" r="3.2" fill="#ee10ee" stroke="#000" stroke-width="0.9"/><circle cx="113.4" cy="183.2" r="3.2" fill="#ee10ee" stroke="#000" stroke-width="0.9"/><circle cx="119.6" cy="181.4" r="3.2" fill="#ee10ee" stroke="#000" stroke-width="0.9"/><circle cx="127.2" cy="183.2" r="3.2" fill="#ee10ee" stroke="#000" stroke-width="0.9"/><circle cx="134" cy="180.5" r="3.2" fill="#ee10ee" stroke="#000" stroke-width="0.9"/><circle cx="141.1" cy="178.9" r="3.2" fill="#ee10ee" stroke="#000" stroke-width="0.9"/><circle cx="149.1" cy="175.2" r="3.2" fill="#ee10ee" stroke="#000" stroke-width="0.9"/><circle cx="155.2" cy="170.9" r="3.2" fill="#ee10ee" stroke="#000" stroke-width="0.9"/><circle cx="162.7" cy="164.6" r="3.2" fill="#ee10ee" stroke="#000" stroke-width="0.9"/><circle cx="168.8" cy="154.4" r="3.2" fill="#ee10ee" stroke="#000" stroke-width="0.9"/><circle cx="174.6" cy="140.8" r="3.2" fill="#ee10ee" stroke="#000" stroke-width="0.9"/><circle cx="184.2" cy="128.8" r="3.2" fill="#ee10ee" stroke="#000" stroke-width="0.9"/><circle cx="190.5" cy="120.7" r="3.2" fill="#ee10ee" stroke="#000" stroke-width="0.9"/><circle cx="198" cy="115.1" r="3.2" fill="#ee10ee" stroke="#000" stroke-width="0.9"/><circle cx="204.3" cy="112.3" r="3.2" fill="#ee10ee" stroke="#000" stroke-width="0.9"/><circle cx="212.1" cy="106.7" r="3.2" fill="#ee10ee" stroke="#000" stroke-width="0.9"/><circle cx="233.6" cy="96.2" r="3.2" fill="#ee10ee" stroke="#000" stroke-width="0.9"/><circle cx="245.1" cy="96.2" r="3.2" fill="#ee10ee" stroke="#000" stroke-width="0.9"/><circle cx="254.8" cy="96.2" r="3.2" fill="#ee10ee" stroke="#000" stroke-width="0.9"/><circle cx="262.8" cy="96.2" r="3.2" fill="#ee10ee" stroke="#000" stroke-width="0.9"/><circle cx="268.6" cy="96.5" r="3.2" fill="#ee10ee" stroke="#000" stroke-width="0.9"/><circle cx="276.7" cy="96.5" r="3.2" fill="#ee10ee" stroke="#000" stroke-width="0.9"/><circle cx="283.1" cy="96.5" r="3.2" fill="#ee10ee" stroke="#000" stroke-width="0.9"/><circle cx="290.7" cy="96.5" r="3.2" fill="#ee10ee" stroke="#000" stroke-width="0.9"/><circle cx="296.8" cy="96.5" r="3.2" fill="#ee10ee" stroke="#000" stroke-width="0.9"/><circle cx="304.2" cy="96.5" r="3.2" fill="#ee10ee" stroke="#000" stroke-width="0.9"/><circle cx="310.8" cy="96.5" r="3.2" fill="#ee10ee" stroke="#000" stroke-width="0.9"/><circle cx="320.3" cy="96.5" r="3.2" fill="#ee10ee" stroke="#000" stroke-width="0.9"/><circle cx="326.3" cy="96.5" r="3.2" fill="#ee10ee" stroke="#000" stroke-width="0.9"/><circle cx="332.3" cy="96.5" r="3.2" fill="#ee10ee" stroke="#000" stroke-width="0.9"/><circle cx="338.4" cy="96.5" r="3.2" fill="#ee10ee" stroke="#000" stroke-width="0.9"/>
</g>
<path d="M342.5 0.5V199.5" stroke="#666" stroke-width="1.1"/>
<path d="M66 0.5H343M66 0.5V199.5H343" stroke="#000" stroke-width="1" fill="none"/>
<path d="M62.8 199.5H66M64.2 190.89H66M64.2 182.28H66M64.2 173.66H66M62.8 165.05H66M64.2 156.44H66M64.2 147.82H66M64.2 139.21H66M62.8 130.6H66M64.2 121.99H66M64.2 113.38H66M64.2 104.76H66M62.8 96.15H66M64.2 87.54H66M64.2 78.92H66M64.2 70.31H66M62.8 61.7H66M64.2 53.09H66M64.2 44.47H66M64.2 35.86H66M62.8 27.25H66M64.2 18.64H66M64.2 10.03H66M64.2 1.41H66M75.91 199.5V197.5M85.8 199.5V196.1M95.69 199.5V197.5M105.59 199.5V197.5M115.48 199.5V197.5M125.38 199.5V196.1M135.28 199.5V197.5M145.17 199.5V197.5M155.06 199.5V197.5M164.96 199.5V196.1M174.86 199.5V197.5M184.75 199.5V197.5M194.64 199.5V197.5M204.54 199.5V196.1M214.44 199.5V197.5M224.33 199.5V197.5M234.23 199.5V197.5M244.12 199.5V196.1M254.01 199.5V197.5M263.91 199.5V197.5M273.81 199.5V197.5M283.7 199.5V196.1M293.6 199.5V197.5M303.49 199.5V197.5M313.38 199.5V197.5M323.28 199.5V196.1M333.18 199.5V197.5" stroke="#000" stroke-width="0.8" fill="none"/>
<text x="56.8" y="204.6" text-anchor="end" font-size="14">0</text>
<text x="56.8" y="170.15" text-anchor="end" font-size="14">500</text>
<text x="56.8" y="135.7" text-anchor="end" font-size="14">1000</text>
<text x="56.8" y="101.25" text-anchor="end" font-size="14">1500</text>
<text x="56.8" y="66.8" text-anchor="end" font-size="14">2000</text>
<text x="56.8" y="32.35" text-anchor="end" font-size="14">2500</text>
<clipPath id="clipB"><rect x="64" y="199.5" width="278.5" height="199.5"/></clipPath>
<g clip-path="url(#clipB)">
<path d="M70.9 391.65V398.15M67.9 391.65H73.9M67.9 398.15H73.9M76 390.7V397.3M73 390.7H79M73 397.3H79M81 389.11V395.89M78 389.11H84M78 395.89H84M84.8 385.19V392.41M81.8 385.19H87.8M81.8 392.41H87.8M88 381.16V388.84M85 381.16H91M85 388.84H91M91.7 374.16V382.64M88.7 374.16H94.7M88.7 382.64H94.7M95.5 364.94V374.46M92.5 364.94H98.5M92.5 374.46H98.5M99.5 351.16V362.24M96.5 351.16H102.5M96.5 362.24H102.5M103 332.82V345.98M100 332.82H106M100 345.98H106M105.2 313.53V328.87M102.2 313.53H108.2M102.2 328.87H108.2M109.4 293.29V310.91M106.4 293.29H112.4M106.4 310.91H112.4M112.8 269.97V290.23M109.8 269.97H115.8M109.8 290.23H115.8M118.4 244.63V267.77M115.4 244.63H121.4M115.4 267.77H121.4M122.2 232.44V256.96M119.2 232.44H125.2M119.2 256.96H125.2M126.9 217.92V244.08M123.9 217.92H129.9M123.9 244.08H129.9M131 215.27V241.73M128 215.27H134M128 241.73H134M135.5 214.21V240.79M132.5 214.21H138.5M132.5 240.79H138.5M145.6 216.2V236.8M142.6 216.2H148.6M142.6 236.8H148.6M149.3 216.2V236.8M146.3 216.2H152.3M146.3 236.8H152.3M153 216.2V236.8M150 216.2H156M150 236.8H156M156.7 216.2V236.8M153.7 216.2H159.7M153.7 236.8H159.7M160.4 216.2V236.8M157.4 216.2H163.4M157.4 236.8H163.4M164.1 216.2V236.8M161.1 216.2H167.1M161.1 236.8H167.1M171.7 216.2V236.8M168.7 216.2H174.7M168.7 236.8H174.7M177.3 216.2V236.8M174.3 216.2H180.3M174.3 236.8H180.3M185.5 216.2V236.8M182.5 216.2H188.5M182.5 236.8H188.5M189.3 216.2V236.8M186.3 216.2H192.3M186.3 236.8H192.3M193.1 216.2V236.8M190.1 216.2H196.1M190.1 236.8H196.1M196.9 216.2V236.8M193.9 216.2H199.9M193.9 236.8H199.9M200.7 216.2V236.8M197.7 216.2H203.7M197.7 236.8H203.7M204.5 216.2V236.8M201.5 216.2H207.5M201.5 236.8H207.5M212.9 216.2V236.8M209.9 216.2H215.9M209.9 236.8H215.9M215.85 216.2V236.8M212.85 216.2H218.85M212.85 236.8H218.85M218.8 216.2V236.8M215.8 216.2H221.8M215.8 236.8H221.8M226.7 216.2V236.8M223.7 216.2H229.7M223.7 236.8H229.7M230.3 216.2V236.8M227.3 216.2H233.3M227.3 236.8H233.3M233.9 216.2V236.8M230.9 216.2H236.9M230.9 236.8H236.9M237.5 216.2V236.8M234.5 216.2H240.5M234.5 236.8H240.5M241.1 216.2V236.8M238.1 216.2H244.1M238.1 236.8H244.1M244.7 216.2V236.8M241.7 216.2H247.7M241.7 236.8H247.7M248.3 216.2V236.8M245.3 216.2H251.3M245.3 236.8H251.3M251.9 216.2V236.8M248.9 216.2H254.9M248.9 236.8H254.9M259.8 216.2V236.8M256.8 216.2H262.8M256.8 236.8H262.8M263.67 216.2V236.8M260.67 216.2H266.67M260.67 236.8H266.67M267.53 216.2V236.8M264.53 216.2H270.53M264.53 236.8H270.53M271.4 216.2V236.8M268.4 216.2H274.4M268.4 236.8H274.4M279.8 216.2V236.8M276.8 216.2H282.8M276.8 236.8H282.8M282.9 216.2V236.8M279.9 216.2H285.9M279.9 236.8H285.9M286 216.2V236.8M283 216.2H289M283 236.8H289M293.5 216.2V236.8M290.5 216.2H296.5M290.5 236.8H296.5M303.4 216.2V236.8M300.4 216.2H306.4M300.4 236.8H306.4M313.5 216.2V236.8M310.5 216.2H316.5M310.5 236.8H316.5" stroke="#111" stroke-width="0.9" fill="none"/>
<path d="M80.5 388.83V395.77M77.5 388.83H83.5M77.5 395.77H83.5M84.8 386.9V394.1M81.8 386.9H87.8M81.8 394.1H87.8M89.6 380.49V388.51M86.6 380.49H92.6M86.6 388.51H92.6M94.8 368.39V378.01M91.8 368.39H97.8M91.8 378.01H97.8M99.5 353.52V365.08M96.5 353.52H102.5M96.5 365.08H102.5M103.5 340.57V353.83M100.5 340.57H106.5M100.5 353.83H106.5M109.4 309.01V326.39M106.4 309.01H112.4M106.4 326.39H112.4M113.6 272.84V294.96M110.6 272.84H116.6M110.6 294.96H116.6M117 266.1V289.1M114 266.1H120M114 289.1H120M123.9 245.13V270.87M120.9 245.13H126.9M120.9 270.87H126.9M129 237.21V263.99M126 237.21H132M126 263.99H132M131.2 231.97V259.43M128.2 231.97H134.2M128.2 259.43H134.2M137.3 225.34V253.66M134.3 225.34H140.3M134.3 253.66H140.3M145.3 220.2V258.2M142.3 220.2H148.3M142.3 258.2H148.3" stroke="#111" stroke-width="0.9" fill="none"/>
<path d="M81.3 392.62V399.18M78.3 392.62H84.3M78.3 399.18H84.3M85.1 390.55V397.45M82.1 390.55H88.1M82.1 397.45H88.1M89.6 386.41V393.99M86.6 386.41H92.6M86.6 393.99H92.6M95.5 377.69V386.71M92.5 377.69H98.5M92.5 386.71H98.5M99.5 367.88V378.52M96.5 367.88H102.5M96.5 378.52H102.5M103.5 354.25V367.15M100.5 354.25H106.5M100.5 367.15H106.5M109.4 330.49V347.31M106.4 330.49H112.4M106.4 347.31H112.4M113.4 312.72V332.48M110.4 312.72H116.4M110.4 332.48H116.4M117.3 290.27V313.73M114.3 290.27H120.3M114.3 313.73H120.3M123.9 238.28V270.32M120.9 238.28H126.9M120.9 270.32H126.9M127.3 222.36V257.04M124.3 222.36H130.3M124.3 257.04H130.3M131.4 210.16V246.84M128.4 210.16H134.4M128.4 246.84H134.4M137.3 205.14V242.66M134.3 205.14H140.3M134.3 242.66H140.3M145.3 193.2V237.2M142.3 193.2H148.3M142.3 237.2H148.3M152.8 193.2V237.2M149.8 193.2H155.8M149.8 237.2H155.8M159.1 193.2V237.2M156.1 193.2H162.1M156.1 237.2H162.1M167.2 191.7V235.7M164.2 191.7H170.2M164.2 235.7H170.2" stroke="#111" stroke-width="0.9" fill="none"/>
<polyline points="70.9,394.9 76,394 81,392.5 84.8,388.8 88,385 91.7,378.4 95.5,369.7 99.5,356.7 103,339.4 105.2,321.2 109.4,302.1 112.8,280.1 118.4,256.2 122.2,244.7 126.9,231 131,228.5 135.5,227.5 145.6,226.5 149.3,226.5 153,226.5 156.7,226.5 160.4,226.5 164.1,226.5 171.7,226.5 177.3,226.5 185.5,226.5 189.3,226.5 193.1,226.5 196.9,226.5 200.7,226.5 204.5,226.5 212.9,226.5 215.85,226.5 218.8,226.5 226.7,226.5 230.3,226.5 233.9,226.5 237.5,226.5 241.1,226.5 244.7,226.5 248.3,226.5 251.9,226.5 259.8,226.5 263.67,226.5 267.53,226.5 271.4,226.5 279.8,226.5 282.9,226.5 286,226.5 293.5,226.5 303.4,226.5 313.5,226.5" stroke="#000000" stroke-width="0.8" fill="none"/>
<polyline points="80.5,392.3 84.8,390.5 89.6,384.5 94.8,373.2 99.5,359.3 103.5,347.2 109.4,317.7 113.6,283.9 117,277.6 123.9,258 129,250.6 131.2,245.7 137.3,239.5 145.3,239.2" stroke="#ff3030" stroke-width="0.8" fill="none"/>
<polyline points="81.3,395.9 85.1,394 89.6,390.2 95.5,382.2 99.5,373.2 103.5,360.7 109.4,338.9 113.4,322.6 117.3,302 123.9,254.3 127.3,239.7 131.4,228.5 137.3,223.9 145.3,215.2 152.8,215.2 159.1,215.2 167.2,213.7" stroke="#30e030" stroke-width="0.8" fill="none"/>
<rect x="68.15" y="392.15" width="5.5" height="5.5" fill="#000000" stroke="#000" stroke-width="0.9"/><rect x="73.25" y="391.25" width="5.5" height="5.5" fill="#000000" stroke="#000" stroke-width="0.9"/><rect x="78.25" y="389.75" width="5.5" height="5.5" fill="#000000" stroke="#000" stroke-width="0.9"/><rect x="82.05" y="386.05" width="5.5" height="5.5" fill="#000000" stroke="#000" stroke-width="0.9"/><rect x="85.25" y="382.25" width="5.5" height="5.5" fill="#000000" stroke="#000" stroke-width="0.9"/><rect x="88.95" y="375.65" width="5.5" height="5.5" fill="#000000" stroke="#000" stroke-width="0.9"/><rect x="92.75" y="366.95" width="5.5" height="5.5" fill="#000000" stroke="#000" stroke-width="0.9"/><rect x="96.75" y="353.95" width="5.5" height="5.5" fill="#000000" stroke="#000" stroke-width="0.9"/><rect x="100.25" y="336.65" width="5.5" height="5.5" fill="#000000" stroke="#000" stroke-width="0.9"/><rect x="102.45" y="318.45" width="5.5" height="5.5" fill="#000000" stroke="#000" stroke-width="0.9"/><rect x="106.65" y="299.35" width="5.5" height="5.5" fill="#000000" stroke="#000" stroke-width="0.9"/><rect x="110.05" y="277.35" width="5.5" height="5.5" fill="#000000" stroke="#000" stroke-width="0.9"/><rect x="115.65" y="253.45" width="5.5" height="5.5" fill="#000000" stroke="#000" stroke-width="0.9"/><rect x="119.45" y="241.95" width="5.5" height="5.5" fill="#000000" stroke="#000" stroke-width="0.9"/><rect x="124.15" y="228.25" width="5.5" height="5.5" fill="#000000" stroke="#000" stroke-width="0.9"/><rect x="128.25" y="225.75" width="5.5" height="5.5" fill="#000000" stroke="#000" stroke-width="0.9"/><rect x="132.75" y="224.75" width="5.5" height="5.5" fill="#000000" stroke="#000" stroke-width="0.9"/><rect x="142.85" y="223.75" width="5.5" height="5.5" fill="#000000" stroke="#000" stroke-width="0.9"/><rect x="146.55" y="223.75" width="5.5" height="5.5" fill="#000000" stroke="#000" stroke-width="0.9"/><rect x="150.25" y="223.75" width="5.5" height="5.5" fill="#000000" stroke="#000" stroke-width="0.9"/><rect x="153.95" y="223.75" width="5.5" height="5.5" fill="#000000" stroke="#000" stroke-width="0.9"/><rect x="157.65" y="223.75" width="5.5" height="5.5" fill="#000000" stroke="#000" stroke-width="0.9"/><rect x="161.35" y="223.75" width="5.5" height="5.5" fill="#000000" stroke="#000" stroke-width="0.9"/><rect x="168.95" y="223.75" width="5.5" height="5.5" fill="#000000" stroke="#000" stroke-width="0.9"/><rect x="174.55" y="223.75" width="5.5" height="5.5" fill="#000000" stroke="#000" stroke-width="0.9"/><rect x="182.75" y="223.75" width="5.5" height="5.5" fill="#000000" stroke="#000" stroke-width="0.9"/><rect x="186.55" y="223.75" width="5.5" height="5.5" fill="#000000" stroke="#000" stroke-width="0.9"/><rect x="190.35" y="223.75" width="5.5" height="5.5" fill="#000000" stroke="#000" stroke-width="0.9"/><rect x="194.15" y="223.75" width="5.5" height="5.5" fill="#000000" stroke="#000" stroke-width="0.9"/><rect x="197.95" y="223.75" width="5.5" height="5.5" fill="#000000" stroke="#000" stroke-width="0.9"/><rect x="201.75" y="223.75" width="5.5" height="5.5" fill="#000000" stroke="#000" stroke-width="0.9"/><rect x="210.15" y="223.75" width="5.5" height="5.5" fill="#000000" stroke="#000" stroke-width="0.9"/><rect x="213.1" y="223.75" width="5.5" height="5.5" fill="#000000" stroke="#000" stroke-width="0.9"/><rect x="216.05" y="223.75" width="5.5" height="5.5" fill="#000000" stroke="#000" stroke-width="0.9"/><rect x="223.95" y="223.75" width="5.5" height="5.5" fill="#000000" stroke="#000" stroke-width="0.9"/><rect x="227.55" y="223.75" width="5.5" height="5.5" fill="#000000" stroke="#000" stroke-width="0.9"/><rect x="231.15" y="223.75" width="5.5" height="5.5" fill="#000000" stroke="#000" stroke-width="0.9"/><rect x="234.75" y="223.75" width="5.5" height="5.5" fill="#000000" stroke="#000" stroke-width="0.9"/><rect x="238.35" y="223.75" width="5.5" height="5.5" fill="#000000" stroke="#000" stroke-width="0.9"/><rect x="241.95" y="223.75" width="5.5" height="5.5" fill="#000000" stroke="#000" stroke-width="0.9"/><rect x="245.55" y="223.75" width="5.5" height="5.5" fill="#000000" stroke="#000" stroke-width="0.9"/><rect x="249.15" y="223.75" width="5.5" height="5.5" fill="#000000" stroke="#000" stroke-width="0.9"/><rect x="257.05" y="223.75" width="5.5" height="5.5" fill="#000000" stroke="#000" stroke-width="0.9"/><rect x="260.92" y="223.75" width="5.5" height="5.5" fill="#000000" stroke="#000" stroke-width="0.9"/><rect x="264.78" y="223.75" width="5.5" height="5.5" fill="#000000" stroke="#000" stroke-width="0.9"/><rect x="268.65" y="223.75" width="5.5" height="5.5" fill="#000000" stroke="#000" stroke-width="0.9"/><rect x="277.05" y="223.75" width="5.5" height="5.5" fill="#000000" stroke="#000" stroke-width="0.9"/><rect x="280.15" y="223.75" width="5.5" height="5.5" fill="#000000" stroke="#000" stroke-width="0.9"/><rect x="283.25" y="223.75" width="5.5" height="5.5" fill="#000000" stroke="#000" stroke-width="0.9"/><rect x="290.75" y="223.75" width="5.5" height="5.5" fill="#000000" stroke="#000" stroke-width="0.9"/><rect x="300.65" y="223.75" width="5.5" height="5.5" fill="#000000" stroke="#000" stroke-width="0.9"/><rect x="310.75" y="223.75" width="5.5" height="5.5" fill="#000000" stroke="#000" stroke-width="0.9"/>
<rect x="77.75" y="389.55" width="5.5" height="5.5" fill="#ff0a0a" stroke="#000" stroke-width="0.9"/><rect x="82.05" y="387.75" width="5.5" height="5.5" fill="#ff0a0a" stroke="#000" stroke-width="0.9"/><rect x="86.85" y="381.75" width="5.5" height="5.5" fill="#ff0a0a" stroke="#000" stroke-width="0.9"/><rect x="92.05" y="370.45" width="5.5" height="5.5" fill="#ff0a0a" stroke="#000" stroke-width="0.9"/><rect x="96.75" y="356.55" width="5.5" height="5.5" fill="#ff0a0a" stroke="#000" stroke-width="0.9"/><rect x="100.75" y="344.45" width="5.5" height="5.5" fill="#ff0a0a" stroke="#000" stroke-width="0.9"/><rect x="106.65" y="314.95" width="5.5" height="5.5" fill="#ff0a0a" stroke="#000" stroke-width="0.9"/><rect x="110.85" y="281.15" width="5.5" height="5.5" fill="#ff0a0a" stroke="#000" stroke-width="0.9"/><rect x="114.25" y="274.85" width="5.5" height="5.5" fill="#ff0a0a" stroke="#000" stroke-width="0.9"/><rect x="121.15" y="255.25" width="5.5" height="5.5" fill="#ff0a0a" stroke="#000" stroke-width="0.9"/><rect x="126.25" y="247.85" width="5.5" height="5.5" fill="#ff0a0a" stroke="#000" stroke-width="0.9"/><rect x="128.45" y="242.95" width="5.5" height="5.5" fill="#ff0a0a" stroke="#000" stroke-width="0.9"/><rect x="134.55" y="236.75" width="5.5" height="5.5" fill="#ff0a0a" stroke="#000" stroke-width="0.9"/><rect x="142.55" y="236.45" width="5.5" height="5.5" fill="#ff0a0a" stroke="#000" stroke-width="0.9"/>
<rect x="78.55" y="393.15" width="5.5" height="5.5" fill="#1ef01e" stroke="#000" stroke-width="0.9"/><rect x="82.35" y="391.25" width="5.5" height="5.5" fill="#1ef01e" stroke="#000" stroke-width="0.9"/><rect x="86.85" y="387.45" width="5.5" height="5.5" fill="#1ef01e" stroke="#000" stroke-width="0.9"/><rect x="92.75" y="379.45" width="5.5" height="5.5" fill="#1ef01e" stroke="#000" stroke-width="0.9"/><rect x="96.75" y="370.45" width="5.5" height="5.5" fill="#1ef01e" stroke="#000" stroke-width="0.9"/><rect x="100.75" y="357.95" width="5.5" height="5.5" fill="#1ef01e" stroke="#000" stroke-width="0.9"/><rect x="106.65" y="336.15" width="5.5" height="5.5" fill="#1ef01e" stroke="#000" stroke-width="0.9"/><rect x="110.65" y="319.85" width="5.5" height="5.5" fill="#1ef01e" stroke="#000" stroke-width="0.9"/><rect x="114.55" y="299.25" width="5.5" height="5.5" fill="#1ef01e" stroke="#000" stroke-width="0.9"/><rect x="121.15" y="251.55" width="5.5" height="5.5" fill="#1ef01e" stroke="#000" stroke-width="0.9"/><rect x="124.55" y="236.95" width="5.5" height="5.5" fill="#1ef01e" stroke="#000" stroke-width="0.9"/><rect x="128.65" y="225.75" width="5.5" height="5.5" fill="#1ef01e" stroke="#000" stroke-width="0.9"/><rect x="134.55" y="221.15" width="5.5" height="5.5" fill="#1ef01e" stroke="#000" stroke-width="0.9"/><rect x="142.55" y="212.45" width="5.5" height="5.5" fill="#1ef01e" stroke="#000" stroke-width="0.9"/><rect x="150.05" y="212.45" width="5.5" height="5.5" fill="#1ef01e" stroke="#000" stroke-width="0.9"/><rect x="156.35" y="212.45" width="5.5" height="5.5" fill="#1ef01e" stroke="#000" stroke-width="0.9"/><rect x="164.45" y="210.95" width="5.5" height="5.5" fill="#1ef01e" stroke="#000" stroke-width="0.9"/>
</g>
<path d="M342.5 199.5V399" stroke="#666" stroke-width="1.1"/>
<path d="M66 199.5H343M66 199.5V399H343" stroke="#000" stroke-width="1" fill="none"/>
<path d="M62.8 399H66M64.2 390.39H66M64.2 381.77H66M64.2 373.16H66M62.8 364.55H66M64.2 355.94H66M64.2 347.32H66M64.2 338.71H66M62.8 330.1H66M64.2 321.49H66M64.2 312.88H66M64.2 304.26H66M62.8 295.65H66M64.2 287.04H66M64.2 278.43H66M64.2 269.81H66M62.8 261.2H66M64.2 252.59H66M64.2 243.97H66M64.2 235.36H66M62.8 226.75H66M64.2 218.14H66M64.2 209.53H66M64.2 200.91H66M75.91 399V397M85.8 399V395.6M95.69 399V397M105.59 399V397M115.48 399V397M125.38 399V395.6M135.28 399V397M145.17 399V397M155.06 399V397M164.96 399V395.6M174.86 399V397M184.75 399V397M194.64 399V397M204.54 399V395.6M214.44 399V397M224.33 399V397M234.23 399V397M244.12 399V395.6M254.01 399V397M263.91 399V397M273.81 399V397M283.7 399V395.6M293.6 399V397M303.49 399V397M313.38 399V397M323.28 399V395.6M333.18 399V397" stroke="#000" stroke-width="0.8" fill="none"/>
<text x="56.8" y="404.1" text-anchor="end" font-size="14">0</text>
<text x="56.8" y="369.65" text-anchor="end" font-size="14">500</text>
<text x="56.8" y="335.2" text-anchor="end" font-size="14">1000</text>
<text x="56.8" y="300.75" text-anchor="end" font-size="14">1500</text>
<text x="56.8" y="266.3" text-anchor="end" font-size="14">2000</text>
<text x="56.8" y="231.85" text-anchor="end" font-size="14">2500</text>
<clipPath id="clipC"><rect x="64" y="399" width="278.5" height="199.5"/></clipPath>
<g clip-path="url(#clipC)">
<path d="M67.5 593.47V599.73M64.5 593.47H70.5M64.5 599.73H70.5M71.5 589.94V596.66M68.5 589.94H74.5M68.5 596.66H74.5M76 589.08V595.92M73 589.08H79M73 595.92H79M80.5 586.94V594.06M77.5 586.94H83.5M77.5 594.06H83.5M84.5 583.2V590.8M81.5 583.2H87.5M81.5 590.8H87.5M88.3 579.56V587.64M85.3 579.56H91.3M85.3 587.64H91.3M91.7 573.03V581.97M88.7 573.03H94.7M88.7 581.97H94.7M94.8 563.83V573.97M91.8 563.83H97.8M91.8 573.97H97.8M98.8 550.02V561.98M95.8 550.02H101.8M95.8 561.98H101.8M103.4 530.44V544.96M100.4 530.44H106.4M100.4 544.96H106.4M105.4 511.83V528.77M102.4 511.83H108.4M102.4 528.77H108.4M109.2 490.85V510.55M106.2 490.85H112.2M106.2 510.55H112.2M113.4 467.42V490.18M110.4 467.42H116.4M110.4 490.18H116.4M119.5 442.7V468.7M116.5 442.7H122.5M116.5 468.7H122.5M123.4 428.37V456.23M120.4 428.37H126.4M120.4 456.23H126.4M126.8 415.53V445.07M123.8 415.53H129.8M123.8 445.07H129.8M132.5 412.53V442.47M129.5 412.53H135.5M129.5 442.47H135.5M137.2 405.4V445.4M134.2 405.4H140.2M134.2 445.4H140.2M143.3 404.8V444.8M140.3 404.8H146.3M140.3 444.8H146.3M149.4 404.8V444.8M146.4 404.8H152.4M146.4 444.8H152.4M156.6 404.8V444.8M153.6 404.8H159.6M153.6 444.8H159.6M163.5 404.8V444.8M160.5 404.8H166.5M160.5 444.8H166.5M170.8 404.8V444.8M167.8 404.8H173.8M167.8 444.8H173.8M176.9 404.8V444.8M173.9 404.8H179.9M173.9 444.8H179.9M184.6 404.8V444.8M181.6 404.8H187.6M181.6 444.8H187.6M190.4 404.8V444.8M187.4 404.8H193.4M187.4 444.8H193.4M196.7 404.8V444.8M193.7 404.8H199.7M193.7 444.8H199.7M204.4 404.8V444.8M201.4 404.8H207.4M201.4 444.8H207.4M212.1 404.8V444.8M209.1 404.8H215.1M209.1 444.8H215.1M218.8 404.8V444.8M215.8 404.8H221.8M215.8 444.8H221.8M226.2 404.8V444.8M223.2 404.8H229.2M223.2 444.8H229.2M232.7 404.8V444.8M229.7 404.8H235.7M229.7 444.8H235.7M240.3 404.8V444.8M237.3 404.8H243.3M237.3 444.8H243.3M246.6 404.8V444.8M243.6 404.8H249.6M243.6 444.8H249.6M253.7 404.8V444.8M250.7 404.8H256.7M250.7 444.8H256.7M259.6 404.8V444.8M256.6 404.8H262.6M256.6 444.8H262.6M267.4 404.8V444.8M264.4 404.8H270.4M264.4 444.8H270.4M273.6 404.8V444.8M270.6 404.8H276.6M270.6 444.8H276.6M281.4 404.8V444.8M278.4 404.8H284.4M278.4 444.8H284.4M287.6 404.8V444.8M284.6 404.8H290.6M284.6 444.8H290.6M295.3 404.8V444.8M292.3 404.8H298.3M292.3 444.8H298.3M302.4 404.8V444.8M299.4 404.8H305.4M299.4 444.8H305.4M308.9 404.8V444.8M305.9 404.8H311.9M305.9 444.8H311.9M316.7 404.8V444.8M313.7 404.8H319.7M313.7 444.8H319.7M323.1 404.8V444.8M320.1 404.8H326.1M320.1 444.8H326.1M329 404.8V444.8M326 404.8H332M326 444.8H332" stroke="#111" stroke-width="0.9" fill="none"/>
<path d="M68.3 594.1V600.3M65.3 594.1H71.3M65.3 600.3H71.3M79.6 590.64V597.36M76.6 590.64H82.6M76.6 597.36H82.6M83.9 586.54V593.86M80.9 586.54H86.9M80.9 593.86H86.9M87.9 580.38V588.62M84.9 580.38H90.9M84.9 588.62H90.9M93.8 580.38V588.62M90.8 580.38H96.8M90.8 588.62H96.8M97.6 571.85V581.35M94.6 571.85H100.6M94.6 581.35H100.6M101.7 561.7V572.7M98.7 561.7H104.7M98.7 572.7H104.7M109.4 538.26V552.74M106.4 538.26H112.4M106.4 552.74H112.4M115.5 503.38V523.02M112.5 503.38H118.5M112.5 523.02H118.5M121.2 467.09V492.11M118.2 467.09H124.2M118.2 492.11H124.2M129.5 449.48V477.12M126.5 449.48H132.5M126.5 477.12H132.5M135.5 438.9V468.1M132.5 438.9H138.5M132.5 468.1H138.5M143.3 422.5V466.5M140.3 422.5H146.3M140.3 466.5H146.3M149.4 407.5V451.5M146.4 407.5H152.4M146.4 451.5H152.4M156.6 405V449M153.6 405H159.6M153.6 449H159.6M163.5 405V449M160.5 405H166.5M160.5 449H166.5M170.8 405V449M167.8 405H173.8M167.8 449H173.8M176.9 405V449M173.9 405H179.9M173.9 449H179.9M184.6 405V449M181.6 405H187.6M181.6 449H187.6M190.4 405V449M187.4 405H193.4M187.4 449H193.4M196.7 405V449M193.7 405H199.7M193.7 449H199.7M204.4 405V449M201.4 405H207.4M201.4 449H207.4M212.1 405V449M209.1 405H215.1M209.1 449H215.1M218.8 405V449M215.8 405H221.8M215.8 449H221.8M226.2 405V449M223.2 405H229.2M223.2 449H229.2M232.7 405V449M229.7 405H235.7M229.7 449H235.7M240.3 405V449M237.3 405H243.3M237.3 449H243.3M246.6 405V449M243.6 405H249.6M243.6 449H249.6M253.7 405V449M250.7 405H256.7M250.7 449H256.7M259.6 405V449M256.6 405H262.6M256.6 449H262.6M267.4 405V449M264.4 405H270.4M264.4 449H270.4M273.6 405V449M270.6 405H276.6M270.6 449H276.6M281.4 405V449M278.4 405H284.4M278.4 449H284.4M287.6 405V449M284.6 405H290.6M284.6 449H290.6M295.3 405V449M292.3 405H298.3M292.3 449H298.3M302.4 405V449M299.4 405H305.4M299.4 449H305.4M308.9 405V449M305.9 405H311.9M305.9 449H311.9M316.7 405V449M313.7 405H319.7M313.7 449H319.7M323.1 405V449M320.1 405H326.1M320.1 449H326.1M329 405V449M326 405H332M326 449H332M336.7 405V449M333.7 405H339.7M333.7 449H339.7M342.4 405V449M339.4 405H345.4M339.4 449H345.4" stroke="#111" stroke-width="0.9" fill="none"/>
<path d="M68.3 594.73V600.87M65.3 594.73H71.3M65.3 600.87H71.3M79.6 591.65V598.35M76.6 591.65H82.6M76.6 598.35H82.6M83.9 587.8V595.2M80.9 587.8H86.9M80.9 595.2H86.9M88.2 583.95V592.05M85.2 583.95H91.2M85.2 592.05H91.2M93.8 582.3V590.7M90.8 582.3H96.8M90.8 590.7H96.8M97.6 573.5V583.5M94.6 573.5H100.6M94.6 583.5H100.6M101.2 565.25V576.75M98.2 565.25H104.2M98.2 576.75H104.2M109.4 537.53V554.07M106.4 537.53H112.4M106.4 554.07H112.4M115.5 510.47V531.93M112.5 510.47H118.5M112.5 531.93H118.5M121.7 483.85V510.15M118.7 483.85H124.7M118.7 510.15H124.7M129.5 450.85V483.15M126.5 450.85H132.5M126.5 483.15H132.5M135.5 438.75V473.25M132.5 438.75H138.5M132.5 473.25H138.5M143.3 412.5V472.5M140.3 412.5H146.3M140.3 472.5H146.3M149.4 405.5V465.5M146.4 405.5H152.4M146.4 465.5H152.4M156.6 405V465M153.6 405H159.6M153.6 465H159.6M163.5 405.6V465.6M160.5 405.6H166.5M160.5 465.6H166.5M170.8 406.5V466.5M167.8 406.5H173.8M167.8 466.5H173.8M176.9 405V465M173.9 405H179.9M173.9 465H179.9M184.6 405.6V465.6M181.6 405.6H187.6M181.6 465.6H187.6M190.4 405V465M187.4 405H193.4M187.4 465H193.4M196.7 405V465M193.7 405H199.7M193.7 465H199.7M204.4 403V463M201.4 403H207.4M201.4 463H207.4M212.1 402.3V462.3M209.1 402.3H215.1M209.1 462.3H215.1M218.8 400.8V460.8M215.8 400.8H221.8M215.8 460.8H221.8M226.2 399.8V459.8M223.2 399.8H229.2M223.2 459.8H229.2M232.7 398.5V458.5M229.7 398.5H235.7M229.7 458.5H235.7M240.3 398.5V458.5M237.3 398.5H243.3M237.3 458.5H243.3M246.6 398.4V458.4M243.6 398.4H249.6M243.6 458.4H249.6M253.7 398.4V458.4M250.7 398.4H256.7M250.7 458.4H256.7M259.6 398.4V458.4M256.6 398.4H262.6M256.6 458.4H262.6M267.4 398.4V458.4M264.4 398.4H270.4M264.4 458.4H270.4M273.6 398.4V458.4M270.6 398.4H276.6M270.6 458.4H276.6M281.4 398.4V458.4M278.4 398.4H284.4M278.4 458.4H284.4M287.6 398.4V458.4M284.6 398.4H290.6M284.6 458.4H290.6M295.3 398.4V458.4M292.3 398.4H298.3M292.3 458.4H298.3M302.4 398.4V458.4M299.4 398.4H305.4M299.4 458.4H305.4M308.9 398.4V458.4M305.9 398.4H311.9M305.9 458.4H311.9M316.7 398.4V458.4M313.7 398.4H319.7M313.7 458.4H319.7M323.1 398.4V458.4M320.1 398.4H326.1M320.1 458.4H326.1M329 398.4V458.4M326 398.4H332M326 458.4H332" stroke="#111" stroke-width="0.9" fill="none"/>
<path d="M68.3 594.04V600.36M65.3 594.04H71.3M65.3 600.36H71.3M79.6 590.46V597.54M76.6 590.46H82.6M76.6 597.54H82.6M83.9 586.2V594.2M80.9 586.2H86.9M80.9 594.2H86.9M87.9 579.82V589.18M84.9 579.82H90.9M84.9 589.18H90.9M93.8 579.82V589.18M90.8 579.82H96.8M90.8 589.18H96.8M97.6 570.97V582.23M94.6 570.97H100.6M94.6 582.23H100.6M101.7 560.44V573.96M98.7 560.44H104.7M98.7 573.96H104.7M109.4 536.14V554.86M106.4 536.14H112.4M106.4 554.86H112.4M115.5 508.48V533.12M112.5 508.48H118.5M112.5 533.12H118.5M121.7 481.37V511.83M118.7 481.37H124.7M118.7 511.83H124.7M129.5 444.64V482.96M126.5 444.64H132.5M126.5 482.96H132.5M135.5 433.66V474.34M132.5 433.66H138.5M132.5 474.34H138.5M143.3 415.4V475.4M140.3 415.4H146.3M140.3 475.4H146.3M149.4 414.6V474.6M146.4 414.6H152.4M146.4 474.6H152.4M156.6 413.7V473.7M153.6 413.7H159.6M153.6 473.7H159.6M163.5 412.7V472.7M160.5 412.7H166.5M160.5 472.7H166.5M170.8 408.5V468.5M167.8 408.5H173.8M167.8 468.5H173.8M176.9 405.6V465.6M173.9 405.6H179.9M173.9 465.6H179.9M184.6 400.8V460.8M181.6 400.8H187.6M181.6 460.8H187.6M190.4 393.1V453.1M187.4 393.1H193.4M187.4 453.1H193.4M196.7 387.7V447.7M193.7 387.7H199.7M193.7 447.7H199.7M204.4 383.5V443.5M201.4 383.5H207.4M201.4 443.5H207.4M212.1 383.5V443.5M209.1 383.5H215.1M209.1 443.5H215.1M218.8 383.5V443.5M215.8 383.5H221.8M215.8 443.5H221.8M226.2 383.8V443.8M223.2 383.8H229.2M223.2 443.8H229.2M232.7 383.8V443.8M229.7 383.8H235.7M229.7 443.8H235.7M240.3 384V444M237.3 384H243.3M237.3 444H243.3M246.6 396.7V456.7M243.6 396.7H249.6M243.6 456.7H249.6M253.7 394.4V454.4M250.7 394.4H256.7M250.7 454.4H256.7M259.6 390.8V450.8M256.6 390.8H262.6M256.6 450.8H262.6M267.4 388.5V448.5M264.4 388.5H270.4M264.4 448.5H270.4M273.6 387.3V447.3M270.6 387.3H276.6M270.6 447.3H276.6M281.4 383.4V443.4M278.4 383.4H284.4M278.4 443.4H284.4M287.6 382.3V442.3M284.6 382.3H290.6M284.6 442.3H290.6M295.3 382.3V442.3M292.3 382.3H298.3M292.3 442.3H298.3M302.4 397V457M299.4 397H305.4M299.4 457H305.4M305.6 393.1V453.1M302.6 393.1H308.6M302.6 453.1H308.6M309.5 389.3V449.3M306.5 389.3H312.5M306.5 449.3H312.5M316.9 386.5V446.5M313.9 386.5H319.9M313.9 446.5H319.9M323.1 385.8V445.8M320.1 385.8H326.1M320.1 445.8H326.1M329 381V441M326 381H332M326 441H332M336.7 379.5V439.5M333.7 379.5H339.7M333.7 439.5H339.7M342.4 377.7V437.7M339.4 377.7H345.4M339.4 437.7H345.4" stroke="#111" stroke-width="0.9" fill="none"/>
<polyline points="67.5,596.6 71.5,593.3 76,592.5 80.5,590.5 84.5,587 88.3,583.6 91.7,577.5 94.8,568.9 98.8,556 103.4,537.7 105.4,520.3 109.2,500.7 113.4,478.8 119.5,455.7 123.4,442.3 126.8,430.3 132.5,427.5 137.2,425.4 143.3,424.8 149.4,424.8 156.6,424.8 163.5,424.8 170.8,424.8 176.9,424.8 184.6,424.8 190.4,424.8 196.7,424.8 204.4,424.8 212.1,424.8 218.8,424.8 226.2,424.8 232.7,424.8 240.3,424.8 246.6,424.8 253.7,424.8 259.6,424.8 267.4,424.8 273.6,424.8 281.4,424.8 287.6,424.8 295.3,424.8 302.4,424.8 308.9,424.8 316.7,424.8 323.1,424.8 329,424.8" stroke="#000000" stroke-width="0.8" fill="none"/>
<polyline points="68.3,597.2 79.6,594 83.9,590.2 87.9,584.5 93.8,584.5 97.6,576.6 101.7,567.2 109.4,545.5 115.5,513.2 121.2,479.6 129.5,463.3 135.5,453.5 143.3,444.5 149.4,429.5 156.6,427 163.5,427 170.8,427 176.9,427 184.6,427 190.4,427 196.7,427 204.4,427 212.1,427 218.8,427 226.2,427 232.7,427 240.3,427 246.6,427 253.7,427 259.6,427 267.4,427 273.6,427 281.4,427 287.6,427 295.3,427 302.4,427 308.9,427 316.7,427 323.1,427 329,427 336.7,427 342.4,427" stroke="#ff3030" stroke-width="0.8" fill="none"/>
<polyline points="68.3,597.8 79.6,595 83.9,591.5 88.2,588 93.8,586.5 97.6,578.5 101.2,571 109.4,545.8 115.5,521.2 121.7,497 129.5,467 135.5,456 143.3,442.5 149.4,435.5 156.6,435 163.5,435.6 170.8,436.5 176.9,435 184.6,435.6 190.4,435 196.7,435 204.4,433 212.1,432.3 218.8,430.8 226.2,429.8 232.7,428.5 240.3,428.5 246.6,428.4 253.7,428.4 259.6,428.4 267.4,428.4 273.6,428.4 281.4,428.4 287.6,428.4 295.3,428.4 302.4,428.4 308.9,428.4 316.7,428.4 323.1,428.4 329,428.4" stroke="#30e030" stroke-width="0.8" fill="none"/>
<polyline points="68.3,597.2 79.6,594 83.9,590.2 87.9,584.5 93.8,584.5 97.6,576.6 101.7,567.2 109.4,545.5 115.5,520.8 121.7,496.6 129.5,463.8 135.5,454 143.3,445.4 149.4,444.6 156.6,443.7 163.5,442.7 170.8,438.5 176.9,435.6 184.6,430.8 190.4,423.1 196.7,417.7 204.4,413.5 212.1,413.5 218.8,413.5 226.2,413.8 232.7,413.8 240.3,414 246.6,426.7 253.7,424.4 259.6,420.8 267.4,418.5 273.6,417.3 281.4,413.4 287.6,412.3 295.3,412.3 302.4,427 305.6,423.1 309.5,419.3 316.9,416.5 323.1,415.8 329,411 336.7,409.5 342.4,407.7" stroke="#f0f020" stroke-width="0.8" fill="none"/>
<polygon points="67.5,592.7 71.1,599.7 63.9,599.7" fill="#000000" stroke="#000" stroke-width="0.9" stroke-linejoin="miter"/><polygon points="71.5,589.4 75.1,596.4 67.9,596.4" fill="#000000" stroke="#000" stroke-width="0.9" stroke-linejoin="miter"/><polygon points="76,588.6 79.6,595.6 72.4,595.6" fill="#000000" stroke="#000" stroke-width="0.9" stroke-linejoin="miter"/><polygon points="80.5,586.6 84.1,593.6 76.9,593.6" fill="#000000" stroke="#000" stroke-width="0.9" stroke-linejoin="miter"/><polygon points="84.5,583.1 88.1,590.1 80.9,590.1" fill="#000000" stroke="#000" stroke-width="0.9" stroke-linejoin="miter"/><polygon points="88.3,579.7 91.9,586.7 84.7,586.7" fill="#000000" stroke="#000" stroke-width="0.9" stroke-linejoin="miter"/><polygon points="91.7,573.6 95.3,580.6 88.1,580.6" fill="#000000" stroke="#000" stroke-width="0.9" stroke-linejoin="miter"/><polygon points="94.8,565 98.4,572 91.2,572" fill="#000000" stroke="#000" stroke-width="0.9" stroke-linejoin="miter"/><polygon points="98.8,552.1 102.4,559.1 95.2,559.1" fill="#000000" stroke="#000" stroke-width="0.9" stroke-linejoin="miter"/><polygon points="103.4,533.8 107,540.8 99.8,540.8" fill="#000000" stroke="#000" stroke-width="0.9" stroke-linejoin="miter"/><polygon points="105.4,516.4 109,523.4 101.8,523.4" fill="#000000" stroke="#000" stroke-width="0.9" stroke-linejoin="miter"/><polygon points="109.2,496.8 112.8,503.8 105.6,503.8" fill="#000000" stroke="#000" stroke-width="0.9" stroke-linejoin="miter"/><polygon points="113.4,474.9 117,481.9 109.8,481.9" fill="#000000" stroke="#000" stroke-width="0.9" stroke-linejoin="miter"/><polygon points="119.5,451.8 123.1,458.8 115.9,458.8" fill="#000000" stroke="#000" stroke-width="0.9" stroke-linejoin="miter"/><polygon points="123.4,438.4 127,445.4 119.8,445.4" fill="#000000" stroke="#000" stroke-width="0.9" stroke-linejoin="miter"/><polygon points="126.8,426.4 130.4,433.4 123.2,433.4" fill="#000000" stroke="#000" stroke-width="0.9" stroke-linejoin="miter"/><polygon points="132.5,423.6 136.1,430.6 128.9,430.6" fill="#000000" stroke="#000" stroke-width="0.9" stroke-linejoin="miter"/><polygon points="137.2,421.5 140.8,428.5 133.6,428.5" fill="#000000" stroke="#000" stroke-width="0.9" stroke-linejoin="miter"/><polygon points="143.3,420.9 146.9,427.9 139.7,427.9" fill="#000000" stroke="#000" stroke-width="0.9" stroke-linejoin="miter"/><polygon points="149.4,420.9 153,427.9 145.8,427.9" fill="#000000" stroke="#000" stroke-width="0.9" stroke-linejoin="miter"/><polygon points="156.6,420.9 160.2,427.9 153,427.9" fill="#000000" stroke="#000" stroke-width="0.9" stroke-linejoin="miter"/><polygon points="163.5,420.9 167.1,427.9 159.9,427.9" fill="#000000" stroke="#000" stroke-width="0.9" stroke-linejoin="miter"/><polygon points="170.8,420.9 174.4,427.9 167.2,427.9" fill="#000000" stroke="#000" stroke-width="0.9" stroke-linejoin="miter"/><polygon points="176.9,420.9 180.5,427.9 173.3,427.9" fill="#000000" stroke="#000" stroke-width="0.9" stroke-linejoin="miter"/><polygon points="184.6,420.9 188.2,427.9 181,427.9" fill="#000000" stroke="#000" stroke-width="0.9" stroke-linejoin="miter"/><polygon points="190.4,420.9 194,427.9 186.8,427.9" fill="#000000" stroke="#000" stroke-width="0.9" stroke-linejoin="miter"/><polygon points="196.7,420.9 200.3,427.9 193.1,427.9" fill="#000000" stroke="#000" stroke-width="0.9" stroke-linejoin="miter"/><polygon points="204.4,420.9 208,427.9 200.8,427.9" fill="#000000" stroke="#000" stroke-width="0.9" stroke-linejoin="miter"/><polygon points="212.1,420.9 215.7,427.9 208.5,427.9" fill="#000000" stroke="#000" stroke-width="0.9" stroke-linejoin="miter"/><polygon points="218.8,420.9 222.4,427.9 215.2,427.9" fill="#000000" stroke="#000" stroke-width="0.9" stroke-linejoin="miter"/><polygon points="226.2,420.9 229.8,427.9 222.6,427.9" fill="#000000" stroke="#000" stroke-width="0.9" stroke-linejoin="miter"/><polygon points="232.7,420.9 236.3,427.9 229.1,427.9" fill="#000000" stroke="#000" stroke-width="0.9" stroke-linejoin="miter"/><polygon points="240.3,420.9 243.9,427.9 236.7,427.9" fill="#000000" stroke="#000" stroke-width="0.9" stroke-linejoin="miter"/><polygon points="246.6,420.9 250.2,427.9 243,427.9" fill="#000000" stroke="#000" stroke-width="0.9" stroke-linejoin="miter"/><polygon points="253.7,420.9 257.3,427.9 250.1,427.9" fill="#000000" stroke="#000" stroke-width="0.9" stroke-linejoin="miter"/><polygon points="259.6,420.9 263.2,427.9 256,427.9" fill="#000000" stroke="#000" stroke-width="0.9" stroke-linejoin="miter"/><polygon points="267.4,420.9 271,427.9 263.8,427.9" fill="#000000" stroke="#000" stroke-width="0.9" stroke-linejoin="miter"/><polygon points="273.6,420.9 277.2,427.9 270,427.9" fill="#000000" stroke="#000" stroke-width="0.9" stroke-linejoin="miter"/><polygon points="281.4,420.9 285,427.9 277.8,427.9" fill="#000000" stroke="#000" stroke-width="0.9" stroke-linejoin="miter"/><polygon points="287.6,420.9 291.2,427.9 284,427.9" fill="#000000" stroke="#000" stroke-width="0.9" stroke-linejoin="miter"/><polygon points="295.3,420.9 298.9,427.9 291.7,427.9" fill="#000000" stroke="#000" stroke-width="0.9" stroke-linejoin="miter"/><polygon points="302.4,420.9 306,427.9 298.8,427.9" fill="#000000" stroke="#000" stroke-width="0.9" stroke-linejoin="miter"/><polygon points="308.9,420.9 312.5,427.9 305.3,427.9" fill="#000000" stroke="#000" stroke-width="0.9" stroke-linejoin="miter"/><polygon points="316.7,420.9 320.3,427.9 313.1,427.9" fill="#000000" stroke="#000" stroke-width="0.9" stroke-linejoin="miter"/><polygon points="323.1,420.9 326.7,427.9 319.5,427.9" fill="#000000" stroke="#000" stroke-width="0.9" stroke-linejoin="miter"/><polygon points="329,420.9 332.6,427.9 325.4,427.9" fill="#000000" stroke="#000" stroke-width="0.9" stroke-linejoin="miter"/>
<polygon points="68.3,593.3 71.9,600.3 64.7,600.3" fill="#ff0a0a" stroke="#000" stroke-width="0.9" stroke-linejoin="miter"/><polygon points="79.6,590.1 83.2,597.1 76,597.1" fill="#ff0a0a" stroke="#000" stroke-width="0.9" stroke-linejoin="miter"/><polygon points="83.9,586.3 87.5,593.3 80.3,593.3" fill="#ff0a0a" stroke="#000" stroke-width="0.9" stroke-linejoin="miter"/><polygon points="87.9,580.6 91.5,587.6 84.3,587.6" fill="#ff0a0a" stroke="#000" stroke-width="0.9" stroke-linejoin="miter"/><polygon points="93.8,580.6 97.4,587.6 90.2,587.6" fill="#ff0a0a" stroke="#000" stroke-width="0.9" stroke-linejoin="miter"/><polygon points="97.6,572.7 101.2,579.7 94,579.7" fill="#ff0a0a" stroke="#000" stroke-width="0.9" stroke-linejoin="miter"/><polygon points="101.7,563.3 105.3,570.3 98.1,570.3" fill="#ff0a0a" stroke="#000" stroke-width="0.9" stroke-linejoin="miter"/><polygon points="109.4,541.6 113,548.6 105.8,548.6" fill="#ff0a0a" stroke="#000" stroke-width="0.9" stroke-linejoin="miter"/><polygon points="115.5,509.3 119.1,516.3 111.9,516.3" fill="#ff0a0a" stroke="#000" stroke-width="0.9" stroke-linejoin="miter"/><polygon points="121.2,475.7 124.8,482.7 117.6,482.7" fill="#ff0a0a" stroke="#000" stroke-width="0.9" stroke-linejoin="miter"/><polygon points="129.5,459.4 133.1,466.4 125.9,466.4" fill="#ff0a0a" stroke="#000" stroke-width="0.9" stroke-linejoin="miter"/><polygon points="135.5,449.6 139.1,456.6 131.9,456.6" fill="#ff0a0a" stroke="#000" stroke-width="0.9" stroke-linejoin="miter"/><polygon points="143.3,440.6 146.9,447.6 139.7,447.6" fill="#ff0a0a" stroke="#000" stroke-width="0.9" stroke-linejoin="miter"/><polygon points="149.4,425.6 153,432.6 145.8,432.6" fill="#ff0a0a" stroke="#000" stroke-width="0.9" stroke-linejoin="miter"/><polygon points="156.6,423.1 160.2,430.1 153,430.1" fill="#ff0a0a" stroke="#000" stroke-width="0.9" stroke-linejoin="miter"/><polygon points="163.5,423.1 167.1,430.1 159.9,430.1" fill="#ff0a0a" stroke="#000" stroke-width="0.9" stroke-linejoin="miter"/><polygon points="170.8,423.1 174.4,430.1 167.2,430.1" fill="#ff0a0a" stroke="#000" stroke-width="0.9" stroke-linejoin="miter"/><polygon points="176.9,423.1 180.5,430.1 173.3,430.1" fill="#ff0a0a" stroke="#000" stroke-width="0.9" stroke-linejoin="miter"/><polygon points="184.6,423.1 188.2,430.1 181,430.1" fill="#ff0a0a" stroke="#000" stroke-width="0.9" stroke-linejoin="miter"/><polygon points="190.4,423.1 194,430.1 186.8,430.1" fill="#ff0a0a" stroke="#000" stroke-width="0.9" stroke-linejoin="miter"/><polygon points="196.7,423.1 200.3,430.1 193.1,430.1" fill="#ff0a0a" stroke="#000" stroke-width="0.9" stroke-linejoin="miter"/><polygon points="204.4,423.1 208,430.1 200.8,430.1" fill="#ff0a0a" stroke="#000" stroke-width="0.9" stroke-linejoin="miter"/><polygon points="212.1,423.1 215.7,430.1 208.5,430.1" fill="#ff0a0a" stroke="#000" stroke-width="0.9" stroke-linejoin="miter"/><polygon points="218.8,423.1 222.4,430.1 215.2,430.1" fill="#ff0a0a" stroke="#000" stroke-width="0.9" stroke-linejoin="miter"/><polygon points="226.2,423.1 229.8,430.1 222.6,430.1" fill="#ff0a0a" stroke="#000" stroke-width="0.9" stroke-linejoin="miter"/><polygon points="232.7,423.1 236.3,430.1 229.1,430.1" fill="#ff0a0a" stroke="#000" stroke-width="0.9" stroke-linejoin="miter"/><polygon points="240.3,423.1 243.9,430.1 236.7,430.1" fill="#ff0a0a" stroke="#000" stroke-width="0.9" stroke-linejoin="miter"/><polygon points="246.6,423.1 250.2,430.1 243,430.1" fill="#ff0a0a" stroke="#000" stroke-width="0.9" stroke-linejoin="miter"/><polygon points="253.7,423.1 257.3,430.1 250.1,430.1" fill="#ff0a0a" stroke="#000" stroke-width="0.9" stroke-linejoin="miter"/><polygon points="259.6,423.1 263.2,430.1 256,430.1" fill="#ff0a0a" stroke="#000" stroke-width="0.9" stroke-linejoin="miter"/><polygon points="267.4,423.1 271,430.1 263.8,430.1" fill="#ff0a0a" stroke="#000" stroke-width="0.9" stroke-linejoin="miter"/><polygon points="273.6,423.1 277.2,430.1 270,430.1" fill="#ff0a0a" stroke="#000" stroke-width="0.9" stroke-linejoin="miter"/><polygon points="281.4,423.1 285,430.1 277.8,430.1" fill="#ff0a0a" stroke="#000" stroke-width="0.9" stroke-linejoin="miter"/><polygon points="287.6,423.1 291.2,430.1 284,430.1" fill="#ff0a0a" stroke="#000" stroke-width="0.9" stroke-linejoin="miter"/><polygon points="295.3,423.1 298.9,430.1 291.7,430.1" fill="#ff0a0a" stroke="#000" stroke-width="0.9" stroke-linejoin="miter"/><polygon points="302.4,423.1 306,430.1 298.8,430.1" fill="#ff0a0a" stroke="#000" stroke-width="0.9" stroke-linejoin="miter"/><polygon points="308.9,423.1 312.5,430.1 305.3,430.1" fill="#ff0a0a" stroke="#000" stroke-width="0.9" stroke-linejoin="miter"/><polygon points="316.7,423.1 320.3,430.1 313.1,430.1" fill="#ff0a0a" stroke="#000" stroke-width="0.9" stroke-linejoin="miter"/><polygon points="323.1,423.1 326.7,430.1 319.5,430.1" fill="#ff0a0a" stroke="#000" stroke-width="0.9" stroke-linejoin="miter"/><polygon points="329,423.1 332.6,430.1 325.4,430.1" fill="#ff0a0a" stroke="#000" stroke-width="0.9" stroke-linejoin="miter"/><polygon points="336.7,423.1 340.3,430.1 333.1,430.1" fill="#ff0a0a" stroke="#000" stroke-width="0.9" stroke-linejoin="miter"/><polygon points="342.4,423.1 346,430.1 338.8,430.1" fill="#ff0a0a" stroke="#000" stroke-width="0.9" stroke-linejoin="miter"/>
<polygon points="68.3,593.9 71.9,600.9 64.7,600.9" fill="#1ef01e" stroke="#000" stroke-width="0.9" stroke-linejoin="miter"/><polygon points="79.6,591.1 83.2,598.1 76,598.1" fill="#1ef01e" stroke="#000" stroke-width="0.9" stroke-linejoin="miter"/><polygon points="83.9,587.6 87.5,594.6 80.3,594.6" fill="#1ef01e" stroke="#000" stroke-width="0.9" stroke-linejoin="miter"/><polygon points="88.2,584.1 91.8,591.1 84.6,591.1" fill="#1ef01e" stroke="#000" stroke-width="0.9" stroke-linejoin="miter"/><polygon points="93.8,582.6 97.4,589.6 90.2,589.6" fill="#1ef01e" stroke="#000" stroke-width="0.9" stroke-linejoin="miter"/><polygon points="97.6,574.6 101.2,581.6 94,581.6" fill="#1ef01e" stroke="#000" stroke-width="0.9" stroke-linejoin="miter"/><polygon points="101.2,567.1 104.8,574.1 97.6,574.1" fill="#1ef01e" stroke="#000" stroke-width="0.9" stroke-linejoin="miter"/><polygon points="109.4,541.9 113,548.9 105.8,548.9" fill="#1ef01e" stroke="#000" stroke-width="0.9" stroke-linejoin="miter"/><polygon points="115.5,517.3 119.1,524.3 111.9,524.3" fill="#1ef01e" stroke="#000" stroke-width="0.9" stroke-linejoin="miter"/><polygon points="121.7,493.1 125.3,500.1 118.1,500.1" fill="#1ef01e" stroke="#000" stroke-width="0.9" stroke-linejoin="miter"/><polygon points="129.5,463.1 133.1,470.1 125.9,470.1" fill="#1ef01e" stroke="#000" stroke-width="0.9" stroke-linejoin="miter"/><polygon points="135.5,452.1 139.1,459.1 131.9,459.1" fill="#1ef01e" stroke="#000" stroke-width="0.9" stroke-linejoin="miter"/><polygon points="143.3,438.6 146.9,445.6 139.7,445.6" fill="#1ef01e" stroke="#000" stroke-width="0.9" stroke-linejoin="miter"/><polygon points="149.4,431.6 153,438.6 145.8,438.6" fill="#1ef01e" stroke="#000" stroke-width="0.9" stroke-linejoin="miter"/><polygon points="156.6,431.1 160.2,438.1 153,438.1" fill="#1ef01e" stroke="#000" stroke-width="0.9" stroke-linejoin="miter"/><polygon points="163.5,431.7 167.1,438.7 159.9,438.7" fill="#1ef01e" stroke="#000" stroke-width="0.9" stroke-linejoin="miter"/><polygon points="170.8,432.6 174.4,439.6 167.2,439.6" fill="#1ef01e" stroke="#000" stroke-width="0.9" stroke-linejoin="miter"/><polygon points="176.9,431.1 180.5,438.1 173.3,438.1" fill="#1ef01e" stroke="#000" stroke-width="0.9" stroke-linejoin="miter"/><polygon points="184.6,431.7 188.2,438.7 181,438.7" fill="#1ef01e" stroke="#000" stroke-width="0.9" stroke-linejoin="miter"/><polygon points="190.4,431.1 194,438.1 186.8,438.1" fill="#1ef01e" stroke="#000" stroke-width="0.9" stroke-linejoin="miter"/><polygon points="196.7,431.1 200.3,438.1 193.1,438.1" fill="#1ef01e" stroke="#000" stroke-width="0.9" stroke-linejoin="miter"/><polygon points="204.4,429.1 208,436.1 200.8,436.1" fill="#1ef01e" stroke="#000" stroke-width="0.9" stroke-linejoin="miter"/><polygon points="212.1,428.4 215.7,435.4 208.5,435.4" fill="#1ef01e" stroke="#000" stroke-width="0.9" stroke-linejoin="miter"/><polygon points="218.8,426.9 222.4,433.9 215.2,433.9" fill="#1ef01e" stroke="#000" stroke-width="0.9" stroke-linejoin="miter"/><polygon points="226.2,425.9 229.8,432.9 222.6,432.9" fill="#1ef01e" stroke="#000" stroke-width="0.9" stroke-linejoin="miter"/><polygon points="232.7,424.6 236.3,431.6 229.1,431.6" fill="#1ef01e" stroke="#000" stroke-width="0.9" stroke-linejoin="miter"/><polygon points="240.3,424.6 243.9,431.6 236.7,431.6" fill="#1ef01e" stroke="#000" stroke-width="0.9" stroke-linejoin="miter"/><polygon points="246.6,424.5 250.2,431.5 243,431.5" fill="#1ef01e" stroke="#000" stroke-width="0.9" stroke-linejoin="miter"/><polygon points="253.7,424.5 257.3,431.5 250.1,431.5" fill="#1ef01e" stroke="#000" stroke-width="0.9" stroke-linejoin="miter"/><polygon points="259.6,424.5 263.2,431.5 256,431.5" fill="#1ef01e" stroke="#000" stroke-width="0.9" stroke-linejoin="miter"/><polygon points="267.4,424.5 271,431.5 263.8,431.5" fill="#1ef01e" stroke="#000" stroke-width="0.9" stroke-linejoin="miter"/><polygon points="273.6,424.5 277.2,431.5 270,431.5" fill="#1ef01e" stroke="#000" stroke-width="0.9" stroke-linejoin="miter"/><polygon points="281.4,424.5 285,431.5 277.8,431.5" fill="#1ef01e" stroke="#000" stroke-width="0.9" stroke-linejoin="miter"/><polygon points="287.6,424.5 291.2,431.5 284,431.5" fill="#1ef01e" stroke="#000" stroke-width="0.9" stroke-linejoin="miter"/><polygon points="295.3,424.5 298.9,431.5 291.7,431.5" fill="#1ef01e" stroke="#000" stroke-width="0.9" stroke-linejoin="miter"/><polygon points="302.4,424.5 306,431.5 298.8,431.5" fill="#1ef01e" stroke="#000" stroke-width="0.9" stroke-linejoin="miter"/><polygon points="308.9,424.5 312.5,431.5 305.3,431.5" fill="#1ef01e" stroke="#000" stroke-width="0.9" stroke-linejoin="miter"/><polygon points="316.7,424.5 320.3,431.5 313.1,431.5" fill="#1ef01e" stroke="#000" stroke-width="0.9" stroke-linejoin="miter"/><polygon points="323.1,424.5 326.7,431.5 319.5,431.5" fill="#1ef01e" stroke="#000" stroke-width="0.9" stroke-linejoin="miter"/><polygon points="329,424.5 332.6,431.5 325.4,431.5" fill="#1ef01e" stroke="#000" stroke-width="0.9" stroke-linejoin="miter"/>
<polygon points="68.3,593.3 71.9,600.3 64.7,600.3" fill="#ffff1e" stroke="#000" stroke-width="0.9" stroke-linejoin="miter"/><polygon points="79.6,590.1 83.2,597.1 76,597.1" fill="#ffff1e" stroke="#000" stroke-width="0.9" stroke-linejoin="miter"/><polygon points="83.9,586.3 87.5,593.3 80.3,593.3" fill="#ffff1e" stroke="#000" stroke-width="0.9" stroke-linejoin="miter"/><polygon points="87.9,580.6 91.5,587.6 84.3,587.6" fill="#ffff1e" stroke="#000" stroke-width="0.9" stroke-linejoin="miter"/><polygon points="93.8,580.6 97.4,587.6 90.2,587.6" fill="#ffff1e" stroke="#000" stroke-width="0.9" stroke-linejoin="miter"/><polygon points="97.6,572.7 101.2,579.7 94,579.7" fill="#ffff1e" stroke="#000" stroke-width="0.9" stroke-linejoin="miter"/><polygon points="101.7,563.3 105.3,570.3 98.1,570.3" fill="#ffff1e" stroke="#000" stroke-width="0.9" stroke-linejoin="miter"/><polygon points="109.4,541.6 113,548.6 105.8,548.6" fill="#ffff1e" stroke="#000" stroke-width="0.9" stroke-linejoin="miter"/><polygon points="115.5,516.9 119.1,523.9 111.9,523.9" fill="#ffff1e" stroke="#000" stroke-width="0.9" stroke-linejoin="miter"/><polygon points="121.7,492.7 125.3,499.7 118.1,499.7" fill="#ffff1e" stroke="#000" stroke-width="0.9" stroke-linejoin="miter"/><polygon points="129.5,459.9 133.1,466.9 125.9,466.9" fill="#ffff1e" stroke="#000" stroke-width="0.9" stroke-linejoin="miter"/><polygon points="135.5,450.1 139.1,457.1 131.9,457.1" fill="#ffff1e" stroke="#000" stroke-width="0.9" stroke-linejoin="miter"/><polygon points="143.3,441.5 146.9,448.5 139.7,448.5" fill="#ffff1e" stroke="#000" stroke-width="0.9" stroke-linejoin="miter"/><polygon points="149.4,440.7 153,447.7 145.8,447.7" fill="#ffff1e" stroke="#000" stroke-width="0.9" stroke-linejoin="miter"/><polygon points="156.6,439.8 160.2,446.8 153,446.8" fill="#ffff1e" stroke="#000" stroke-width="0.9" stroke-linejoin="miter"/><polygon points="163.5,438.8 167.1,445.8 159.9,445.8" fill="#ffff1e" stroke="#000" stroke-width="0.9" stroke-linejoin="miter"/><polygon points="170.8,434.6 174.4,441.6 167.2,441.6" fill="#ffff1e" stroke="#000" stroke-width="0.9" stroke-linejoin="miter"/><polygon points="176.9,431.7 180.5,438.7 173.3,438.7" fill="#ffff1e" stroke="#000" stroke-width="0.9" stroke-linejoin="miter"/><polygon points="184.6,426.9 188.2,433.9 181,433.9" fill="#ffff1e" stroke="#000" stroke-width="0.9" stroke-linejoin="miter"/><polygon points="190.4,419.2 194,426.2 186.8,426.2" fill="#ffff1e" stroke="#000" stroke-width="0.9" stroke-linejoin="miter"/><polygon points="196.7,413.8 200.3,420.8 193.1,420.8" fill="#ffff1e" stroke="#000" stroke-width="0.9" stroke-linejoin="miter"/><polygon points="204.4,409.6 208,416.6 200.8,416.6" fill="#ffff1e" stroke="#000" stroke-width="0.9" stroke-linejoin="miter"/><polygon points="212.1,409.6 215.7,416.6 208.5,416.6" fill="#ffff1e" stroke="#000" stroke-width="0.9" stroke-linejoin="miter"/><polygon points="218.8,409.6 222.4,416.6 215.2,416.6" fill="#ffff1e" stroke="#000" stroke-width="0.9" stroke-linejoin="miter"/><polygon points="226.2,409.9 229.8,416.9 222.6,416.9" fill="#ffff1e" stroke="#000" stroke-width="0.9" stroke-linejoin="miter"/><polygon points="232.7,409.9 236.3,416.9 229.1,416.9" fill="#ffff1e" stroke="#000" stroke-width="0.9" stroke-linejoin="miter"/><polygon points="240.3,410.1 243.9,417.1 236.7,417.1" fill="#ffff1e" stroke="#000" stroke-width="0.9" stroke-linejoin="miter"/><polygon points="246.6,422.8 250.2,429.8 243,429.8" fill="#ffff1e" stroke="#000" stroke-width="0.9" stroke-linejoin="miter"/><polygon points="253.7,420.5 257.3,427.5 250.1,427.5" fill="#ffff1e" stroke="#000" stroke-width="0.9" stroke-linejoin="miter"/><polygon points="259.6,416.9 263.2,423.9 256,423.9" fill="#ffff1e" stroke="#000" stroke-width="0.9" stroke-linejoin="miter"/><polygon points="267.4,414.6 271,421.6 263.8,421.6" fill="#ffff1e" stroke="#000" stroke-width="0.9" stroke-linejoin="miter"/><polygon points="273.6,413.4 277.2,420.4 270,420.4" fill="#ffff1e" stroke="#000" stroke-width="0.9" stroke-linejoin="miter"/><polygon points="281.4,409.5 285,416.5 277.8,416.5" fill="#ffff1e" stroke="#000" stroke-width="0.9" stroke-linejoin="miter"/><polygon points="287.6,408.4 291.2,415.4 284,415.4" fill="#ffff1e" stroke="#000" stroke-width="0.9" stroke-linejoin="miter"/><polygon points="295.3,408.4 298.9,415.4 291.7,415.4" fill="#ffff1e" stroke="#000" stroke-width="0.9" stroke-linejoin="miter"/><polygon points="302.4,423.1 306,430.1 298.8,430.1" fill="#ffff1e" stroke="#000" stroke-width="0.9" stroke-linejoin="miter"/><polygon points="305.6,419.2 309.2,426.2 302,426.2" fill="#ffff1e" stroke="#000" stroke-width="0.9" stroke-linejoin="miter"/><polygon points="309.5,415.4 313.1,422.4 305.9,422.4" fill="#ffff1e" stroke="#000" stroke-width="0.9" stroke-linejoin="miter"/><polygon points="316.9,412.6 320.5,419.6 313.3,419.6" fill="#ffff1e" stroke="#000" stroke-width="0.9" stroke-linejoin="miter"/><polygon points="323.1,411.9 326.7,418.9 319.5,418.9" fill="#ffff1e" stroke="#000" stroke-width="0.9" stroke-linejoin="miter"/><polygon points="329,407.1 332.6,414.1 325.4,414.1" fill="#ffff1e" stroke="#000" stroke-width="0.9" stroke-linejoin="miter"/><polygon points="336.7,405.6 340.3,412.6 333.1,412.6" fill="#ffff1e" stroke="#000" stroke-width="0.9" stroke-linejoin="miter"/><polygon points="342.4,403.8 346,410.8 338.8,410.8" fill="#ffff1e" stroke="#000" stroke-width="0.9" stroke-linejoin="miter"/>
</g>
<path d="M342.5 399V598.5" stroke="#666" stroke-width="1.1"/>
<path d="M66 399H343M66 399V598.5H343" stroke="#000" stroke-width="1" fill="none"/>
<path d="M62.8 598.5H66M64.2 589.89H66M64.2 581.27H66M64.2 572.66H66M62.8 564.05H66M64.2 555.44H66M64.2 546.83H66M64.2 538.21H66M62.8 529.6H66M64.2 520.99H66M64.2 512.38H66M64.2 503.76H66M62.8 495.15H66M64.2 486.54H66M64.2 477.93H66M64.2 469.31H66M62.8 460.7H66M64.2 452.09H66M64.2 443.48H66M64.2 434.86H66M62.8 426.25H66M64.2 417.64H66M64.2 409.02H66M64.2 400.41H66M75.91 598.5V596.5M85.8 598.5V595.1M95.69 598.5V596.5M105.59 598.5V596.5M115.48 598.5V596.5M125.38 598.5V595.1M135.28 598.5V596.5M145.17 598.5V596.5M155.06 598.5V596.5M164.96 598.5V595.1M174.86 598.5V596.5M184.75 598.5V596.5M194.64 598.5V596.5M204.54 598.5V595.1M214.44 598.5V596.5M224.33 598.5V596.5M234.23 598.5V596.5M244.12 598.5V595.1M254.01 598.5V596.5M263.91 598.5V596.5M273.81 598.5V596.5M283.7 598.5V595.1M293.6 598.5V596.5M303.49 598.5V596.5M313.38 598.5V596.5M323.28 598.5V595.1M333.18 598.5V596.5" stroke="#000" stroke-width="0.8" fill="none"/>
<text x="56.8" y="603.6" text-anchor="end" font-size="14">0</text>
<text x="56.8" y="569.15" text-anchor="end" font-size="14">500</text>
<text x="56.8" y="534.7" text-anchor="end" font-size="14">1000</text>
<text x="56.8" y="500.25" text-anchor="end" font-size="14">1500</text>
<text x="56.8" y="465.8" text-anchor="end" font-size="14">2000</text>
<text x="56.8" y="431.35" text-anchor="end" font-size="14">2500</text>
<text x="85.8" y="618.2" text-anchor="middle" font-size="14">0</text>
<text x="125.38" y="618.2" text-anchor="middle" font-size="14">20</text>
<text x="164.96" y="618.2" text-anchor="middle" font-size="14">40</text>
<text x="204.54" y="618.2" text-anchor="middle" font-size="14">60</text>
<text x="244.12" y="618.2" text-anchor="middle" font-size="14">80</text>
<text x="283.7" y="618.2" text-anchor="middle" font-size="14">100</text>
<text x="323.28" y="618.2" text-anchor="middle" font-size="14">120</text>
<text x="204.9" y="642.3" text-anchor="middle" font-size="14">Days</text>
<text x="1.6" y="13.1" font-size="16" font-weight="bold">A</text>
<text x="1.6" y="210.8" font-size="16" font-weight="bold">B</text>
<text x="2.5" y="412.6" font-size="16" font-weight="bold">C</text>
<text transform="translate(13.5 99.8) rotate(-90)" text-anchor="middle" font-size="14.3">Tumor volume (mm<tspan font-size="9.5" dy="-6.3">3</tspan><tspan dy="6.3">)</tspan></text>
<text transform="translate(13.5 298.8) rotate(-90)" text-anchor="middle" font-size="14.3">Tumor volume (mm<tspan font-size="9.5" dy="-6.3">3</tspan><tspan dy="6.3">)</tspan></text>
<text transform="translate(13.5 498) rotate(-90)" text-anchor="middle" font-size="14.3">Tumor volume (mm<tspan font-size="9.5" dy="-6.3">3</tspan><tspan dy="6.3">)</tspan></text>
<rect x="346.6" y="62" width="172.4" height="89" fill="#fff" stroke="#666" stroke-width="1"/>
<path d="M353.5 74.1H376.8" stroke="#000000" stroke-width="1"/>
<circle cx="365" cy="74.1" r="3.2" fill="#000000" stroke="#000" stroke-width="0.9"/>
<text x="382.9" y="77.7" font-size="10.2">NaCl</text>
<path d="M353.5 86.9H376.8" stroke="#ff3030" stroke-width="1"/>
<circle cx="365" cy="86.9" r="3.2" fill="#ff0a0a" stroke="#000" stroke-width="0.9"/>
<text x="382.9" y="91.1" font-size="10.2">rituximab</text>
<path d="M353.5 99.8H376.8" stroke="#30e030" stroke-width="1"/>
<circle cx="365" cy="99.8" r="3.2" fill="#1ef01e" stroke="#000" stroke-width="0.9"/>
<text x="382.9" y="104.1" font-size="10.2">50 kBq/kg <tspan font-size="7" dy="-4">227</tspan><tspan dy="4">Th-rituximab</tspan></text>
<path d="M353.5 112.7H376.8" stroke="#f0f020" stroke-width="1"/>
<circle cx="365" cy="112.7" r="3.2" fill="#ffff1e" stroke="#000" stroke-width="0.9"/>
<text x="382.9" y="117" font-size="10.2">200 KBq/kg <tspan font-size="7" dy="-4">227</tspan><tspan dy="4">Th-rituximab</tspan></text>
<path d="M353.5 125.7H376.8" stroke="#2020e0" stroke-width="1"/>
<circle cx="365" cy="125.7" r="3.2" fill="#0000e6" stroke="#000" stroke-width="0.9"/>
<text x="382.9" y="130" font-size="10.2">400 KBq/kg <tspan font-size="7" dy="-4">227</tspan><tspan dy="4">Th-rituximab</tspan></text>
<path d="M353.5 138.7H376.8" stroke="#000000" stroke-width="1"/>
<circle cx="365" cy="138.7" r="3.2" fill="#ee10ee" stroke="#000" stroke-width="0.9"/>
<text x="382.9" y="143" font-size="10.2">1000 KBq/kg <tspan font-size="7" dy="-4">227</tspan><tspan dy="4">Th-rituximab</tspan></text>
<rect x="345.5" y="280.7" width="169.8" height="52" fill="#fff" stroke="#666" stroke-width="1"/>
<path d="M352.5 293.4H376" stroke="#000000" stroke-width="1"/>
<rect x="361.45" y="290.65" width="5.5" height="5.5" fill="#000000" stroke="#000" stroke-width="0.9"/>
<text x="381.9" y="297.2" font-size="10.2">NaCl</text>
<path d="M352.5 306.8H376" stroke="#ff3030" stroke-width="1"/>
<rect x="361.45" y="304.05" width="5.5" height="5.5" fill="#ff0a0a" stroke="#000" stroke-width="0.9"/>
<text x="381.9" y="311.1" font-size="10.2">200 kBq/kg <tspan font-size="7" dy="-4">227</tspan><tspan dy="4">Th-Herceptin</tspan></text>
<path d="M352.5 320.2H376" stroke="#30e030" stroke-width="1"/>
<rect x="361.45" y="317.45" width="5.5" height="5.5" fill="#1ef01e" stroke="#000" stroke-width="0.9"/>
<text x="381.9" y="324.4" font-size="10.2">400 kBq/kg <tspan font-size="7" dy="-4">227</tspan><tspan dy="4">Th-Herceptin</tspan></text>
<rect x="346.6" y="480.2" width="134.2" height="63.7" fill="#fff" stroke="#666" stroke-width="1"/>
<path d="M353.8 492.6H377.2" stroke="#000000" stroke-width="1"/>
<polygon points="365.6,488.7 369.2,495.7 362,495.7" fill="#000000" stroke="#000" stroke-width="0.9" stroke-linejoin="miter"/>
<text x="383.3" y="496.7" font-size="10.2">NaCl</text>
<path d="M353.8 505.4H377.2" stroke="#ff3030" stroke-width="1"/>
<polygon points="365.6,501.5 369.2,508.5 362,508.5" fill="#ff0a0a" stroke="#000" stroke-width="0.9" stroke-linejoin="miter"/>
<text x="383.3" y="509.5" font-size="10.2">7.5 MBq/kg Zevalin</text>
<path d="M353.8 518H377.2" stroke="#30e030" stroke-width="1"/>
<polygon points="365.6,514.1 369.2,521.1 362,521.1" fill="#1ef01e" stroke="#000" stroke-width="0.9" stroke-linejoin="miter"/>
<text x="383.3" y="522.1" font-size="10.2">15 MBq/kg Zevalin</text>
<path d="M353.8 530.7H377.2" stroke="#f0f020" stroke-width="1"/>
<polygon points="365.6,526.8 369.2,533.8 362,533.8" fill="#ffff1e" stroke="#000" stroke-width="0.9" stroke-linejoin="miter"/>
<text x="383.3" y="534.8" font-size="10.2">30 MBq/kg Zevalin</text>
</svg>
</body></html>
